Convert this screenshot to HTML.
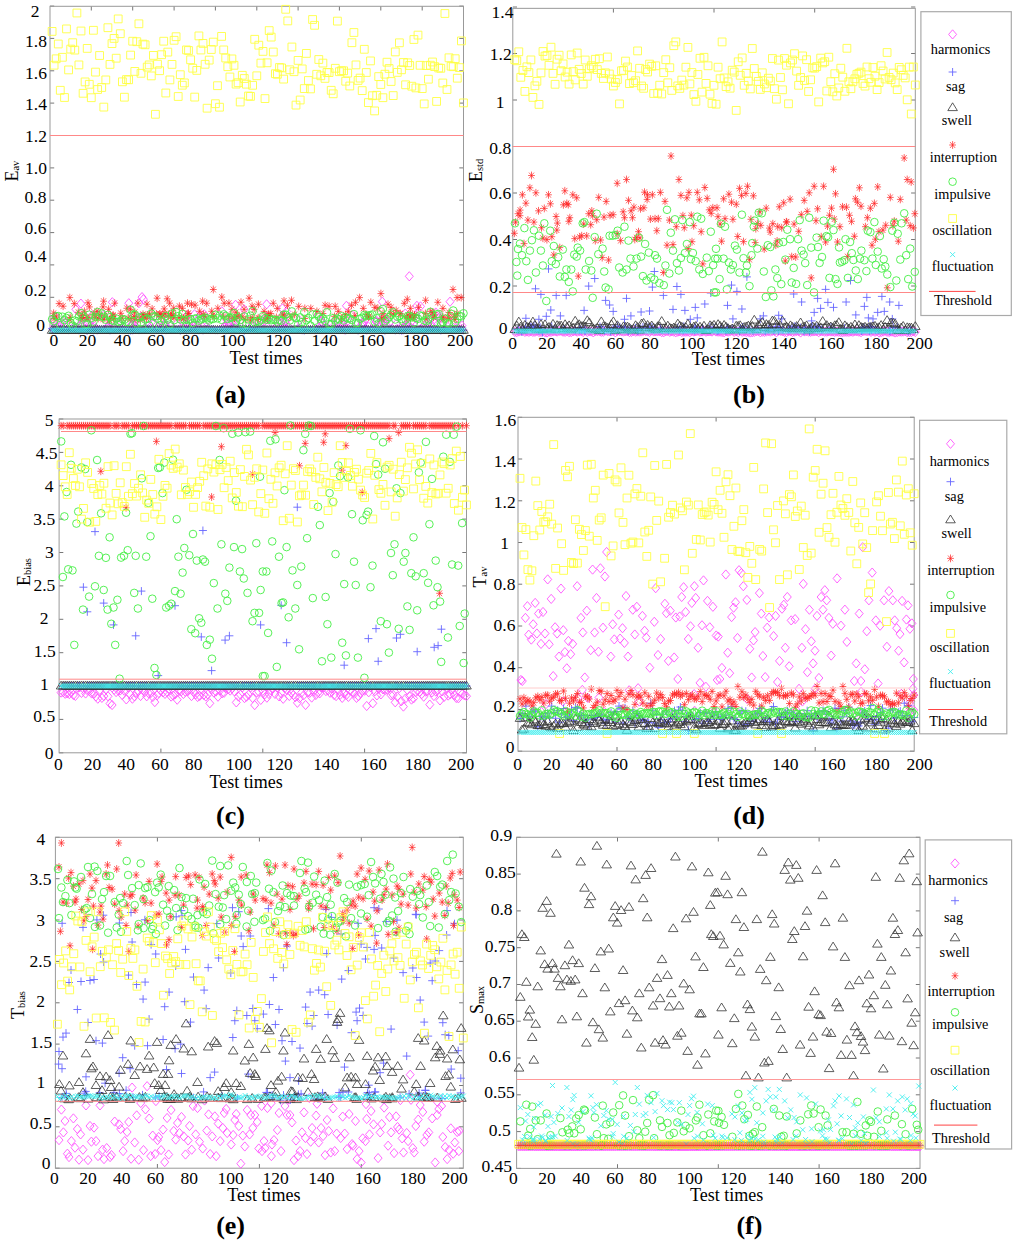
<!DOCTYPE html><html><head><meta charset="utf-8"><style>html,body{margin:0;padding:0;background:#fff}svg{display:block}</style></head><body><svg width="1024" height="1244" viewBox="0 0 1024 1244" font-family="&quot;Liberation Serif&quot;, serif" fill="#000"><rect width="1024" height="1244" fill="#fff"/><defs><path id="sd" d="M0-4.6L4 0 0 4.6-4 0Z" fill="none" stroke="#f5f" stroke-width="0.9"/><path id="sp" d="M-4 0H4M0-4V4" fill="none" stroke="#66f" stroke-width="0.9"/><path id="st" d="M0-4.5L4.8 3.3 -4.8 3.3Z" fill="none" stroke="#333" stroke-width="0.8"/><path id="sa" d="M-3.4 0H3.4M0-3.9V3.9M-2.5-2.9L2.5 2.9M-2.5 2.9L2.5-2.9" fill="none" stroke="#f22" stroke-width="0.7"/><circle id="sc" r="3.8" fill="none" stroke="#4e4" stroke-width="0.9"/><path id="ss" d="M-3.9-3.9H3.9V3.9H-3.9Z" fill="none" stroke="#ff4" stroke-width="0.9"/><path id="sx" d="M-2.5-2.5L2.5 2.5M-2.5 2.5L2.5-2.5" fill="none" stroke="#4ee" stroke-width="0.9"/><marker id="md" markerUnits="userSpaceOnUse" overflow="visible" refX="0" refY="0"><use href="#sd"/></marker><marker id="mp" markerUnits="userSpaceOnUse" overflow="visible" refX="0" refY="0"><use href="#sp"/></marker><marker id="mt" markerUnits="userSpaceOnUse" overflow="visible" refX="0" refY="0"><use href="#st"/></marker><marker id="ma" markerUnits="userSpaceOnUse" overflow="visible" refX="0" refY="0"><use href="#sa"/></marker><marker id="mc" markerUnits="userSpaceOnUse" overflow="visible" refX="0" refY="0"><use href="#sc"/></marker><marker id="ms" markerUnits="userSpaceOnUse" overflow="visible" refX="0" refY="0"><use href="#ss"/></marker><marker id="mx" markerUnits="userSpaceOnUse" overflow="visible" refX="0" refY="0"><use href="#sx"/></marker></defs><path d="M91.3 333.4v-4.2M91.3 6.3v4.2M132.7 333.4v-4.2M132.7 6.3v4.2M174.1 333.4v-4.2M174.1 6.3v4.2M215.4 333.4v-4.2M215.4 6.3v4.2M256.8 333.4v-4.2M256.8 6.3v4.2M298.1 333.4v-4.2M298.1 6.3v4.2M339.4 333.4v-4.2M339.4 6.3v4.2M380.8 333.4v-4.2M380.8 6.3v4.2M422.2 333.4v-4.2M422.2 6.3v4.2M50 329.7h4.2M463.5 329.7h-4.2M50 297.3h4.2M463.5 297.3h-4.2M50 264.9h4.2M463.5 264.9h-4.2M50 232.6h4.2M463.5 232.6h-4.2M50 200.2h4.2M463.5 200.2h-4.2M50 167.9h4.2M463.5 167.9h-4.2M50 135.5h4.2M463.5 135.5h-4.2M50 103.1h4.2M463.5 103.1h-4.2M50 70.8h4.2M463.5 70.8h-4.2M50 38.4h4.2M463.5 38.4h-4.2M50 6.1h4.2M463.5 6.1h-4.2" stroke="#777" stroke-width="1" fill="none"/><rect x="50" y="6.3" width="413.5" height="327.1" fill="none" stroke="#999" stroke-width="1"/><polyline points="53.0,328.5 53.5,320.9 54.7,320.5 55.3,316.4 57.0,327.8 59.2,327.3 62.1,323.8 62.7,320.7 65.3,322.7 73.6,327.0 75.5,327.2 75.9,309.3 80.4,324.9 80.9,303.6 81.8,320.1 82.5,323.4 86.7,329.6 86.9,323.4 87.8,323.1 90.0,325.9 91.0,325.5 92.1,315.3 92.6,327.5 94.2,326.5 96.8,329.2 97.2,329.6 98.0,315.1 104.0,315.1 107.4,327.4 108.0,328.0 108.3,325.9 111.0,321.8 112.3,302.2 117.5,323.3 119.3,324.0 121.6,322.2 128.8,303.2 131.2,325.0 131.7,318.2 132.4,325.0 133.0,328.1 133.6,328.1 134.7,325.8 134.7,328.5 137.3,319.3 138.9,303.2 140.7,316.8 142.0,297.1 143.4,299.2 144.6,328.6 147.4,321.2 152.0,321.6 153.8,323.0 154.4,316.7 157.9,329.2 158.4,326.9 163.2,327.2 164.0,324.4 165.2,326.6 165.2,324.1 168.6,319.1 170.8,325.3 176.5,324.2 183.6,323.0 184.3,328.7 184.6,326.8 185.6,325.4 187.0,324.3 187.2,315.1 188.7,322.6 191.7,329.0 192.2,328.2 192.5,325.5 194.1,326.3 194.5,314.3 197.4,325.2 199.6,316.3 200.1,320.9 204.2,314.3 206.2,327.1 206.2,321.8 221.8,311.3 223.9,326.9 225.1,326.4 226.5,319.5 227.5,324.5 227.8,327.8 228.9,323.8 232.2,321.8 234.4,325.6 234.7,327.9 235.0,322.8 235.6,304.8 241.1,319.5 243.2,329.1 244.1,309.3 251.5,326.7 252.5,324.6 258.6,325.7 264.6,321.2 265.2,320.1 266.6,304.3 266.8,316.8 271.6,322.8 275.1,329.1 280.4,322.2 280.9,323.4 281.5,317.1 282.4,308.4 283.6,324.8 284.6,328.0 285.2,322.1 285.4,321.1 286.5,311.4 288.4,326.9 298.3,328.5 299.3,320.3 316.3,329.5 318.1,315.1 320.9,325.9 321.2,321.9 321.4,321.0 322.9,323.6 326.1,327.8 331.8,323.6 334.7,329.3 335.0,324.6 336.9,328.1 338.0,322.4 340.0,328.8 343.2,322.6 343.8,328.7 343.9,325.1 344.5,327.2 344.6,329.6 346.4,305.8 347.3,321.4 352.2,315.3 356.7,323.8 358.9,327.9 362.0,323.0 362.6,324.8 363.5,323.2 364.8,320.3 366.6,329.6 368.2,326.3 376.3,320.4 376.3,322.0 376.4,321.7 378.3,325.2 381.1,320.9 382.2,329.4 382.3,301.7 382.4,321.8 383.6,317.2 385.5,320.0 385.7,320.6 386.7,325.6 389.6,322.4 396.1,324.1 396.7,329.3 397.7,329.2 402.1,329.6 402.2,328.7 403.6,328.5 404.4,327.8 405.2,327.1 405.3,313.5 405.3,325.0 406.7,325.2 407.3,325.6 409.3,276.3 410.7,328.0 412.6,320.1 413.5,329.1 416.1,315.3 416.8,319.2 416.9,305.8 420.5,306.4 420.9,328.9 424.2,325.9 425.2,328.8 427.6,323.0 428.4,326.3 429.7,324.6 430.2,319.3 431.8,317.8 432.5,326.2 435.8,312.5 437.0,325.2 437.0,316.5 439.8,316.5 440.4,318.8 443.0,323.6 447.5,326.4 450.0,301.7 454.5,320.3 457.2,328.2 461.9,328.7 462.0,325.7" fill="none" stroke="none" marker-start="url(#md)" marker-mid="url(#md)" marker-end="url(#md)"/><polyline points="52.1,328.7 54.1,330.1 56.2,329.6 58.3,330.0 60.3,328.8 62.4,329.8 64.5,329.6 66.5,329.6 68.6,330.1 70.7,329.2 72.7,328.5 74.8,329.5 76.9,329.9 78.9,330.2 81.0,329.9 83.1,329.6 85.1,329.7 87.2,330.5 89.3,328.8 91.3,329.5 93.4,330.3 95.5,328.8 97.6,329.8 99.6,329.4 101.7,329.5 103.8,329.2 105.8,329.4 107.9,329.5 110.0,330.3 112.0,329.6 114.1,329.9 116.2,329.8 118.2,329.4 120.3,329.6 122.4,329.4 124.4,329.8 126.5,329.9 128.6,330.2 130.6,330.5 132.7,330.3 134.8,329.7 136.8,328.9 138.9,330.1 141.0,329.7 143.0,329.9 145.1,329.5 147.2,328.8 149.2,329.0 151.3,329.8 153.4,329.9 155.4,329.6 157.5,330.0 159.6,330.0 161.6,330.2 163.7,329.5 165.8,330.1 167.8,328.9 169.9,329.9 172.0,329.9 174.1,329.6 176.1,329.7 178.2,329.4 180.3,330.5 182.3,329.8 184.4,329.7 186.5,330.4 188.5,330.0 190.6,329.5 192.7,329.4 194.7,330.3 196.8,330.0 198.9,330.2 200.9,329.5 203.0,330.3 205.1,329.7 207.1,329.2 209.2,329.8 211.3,329.3 213.3,329.0 215.4,330.1 217.5,330.1 219.5,330.0 221.6,329.9 223.7,329.6 225.7,330.3 227.8,329.6 229.9,330.0 231.9,329.2 234.0,328.6 236.1,329.7 238.1,328.6 240.2,329.1 242.3,329.4 244.3,330.5 246.4,329.5 248.5,330.0 250.5,329.2 252.6,329.1 254.7,329.6 256.8,329.9 258.8,328.5 260.9,329.6 263.0,329.3 265.0,329.9 267.1,329.5 269.2,330.0 271.2,329.6 273.3,329.7 275.4,329.9 277.4,329.9 279.5,329.7 281.6,329.7 283.6,329.8 285.7,329.8 287.8,329.8 289.8,329.6 291.9,329.9 294.0,329.5 296.0,329.9 298.1,329.2 300.2,330.0 302.2,330.2 304.3,330.5 306.4,329.8 308.4,329.9 310.5,329.5 312.6,329.8 314.6,330.1 316.7,329.2 318.8,329.9 320.8,329.2 322.9,329.6 325.0,329.1 327.0,329.8 329.1,329.5 331.2,330.1 333.2,329.8 335.3,329.8 337.4,329.6 339.4,329.4 341.5,330.0 343.6,329.4 345.7,330.3 347.7,329.9 349.8,329.6 351.9,329.3 353.9,329.4 356.0,329.6 358.1,330.4 360.1,329.0 362.2,329.5 364.3,329.2 366.3,329.0 368.4,329.6 370.5,330.0 372.5,329.5 374.6,330.0 376.7,329.4 378.7,329.9 380.8,329.5 382.9,329.9 384.9,330.5 387.0,329.3 389.1,329.9 391.1,328.8 393.2,329.6 395.3,330.3 397.3,329.5 399.4,330.2 401.5,330.4 403.5,330.2 405.6,329.7 407.7,329.6 409.7,329.6 411.8,329.5 413.9,329.4 415.9,329.1 418.0,329.9 420.1,329.2 422.2,329.6 424.2,330.4 426.3,329.2 428.4,330.2 430.4,329.3 432.5,329.7 434.6,329.2 436.6,328.9 438.7,329.3 440.8,330.4 442.8,329.6 444.9,329.8 447.0,329.8 449.0,329.7 451.1,329.2 453.2,329.6 455.2,330.1 457.3,328.8 459.4,329.8 461.4,329.9 463.5,330.2" fill="none" stroke="none" marker-start="url(#mp)" marker-mid="url(#mp)" marker-end="url(#mp)"/><polyline points="52.1,330.0 54.1,330.0 56.2,330.0 58.3,330.0 60.3,330.0 62.4,330.0 64.5,330.0 66.5,330.0 68.6,330.0 70.7,330.0 72.7,330.0 74.8,330.0 76.9,330.0 78.9,330.0 81.0,330.0 83.1,330.0 85.1,330.0 87.2,330.0 89.3,330.0 91.3,330.0 93.4,330.0 95.5,330.0 97.6,330.0 99.6,330.0 101.7,330.0 103.8,330.0 105.8,330.0 107.9,330.0 110.0,330.0 112.0,330.0 114.1,330.0 116.2,330.0 118.2,330.0 120.3,330.0 122.4,330.0 124.4,330.0 126.5,330.0 128.6,330.0 130.6,330.0 132.7,330.0 134.8,330.0 136.8,330.0 138.9,330.0 141.0,330.0 143.0,330.0 145.1,330.0 147.2,330.0 149.2,330.0 151.3,330.0 153.4,330.0 155.4,330.0 157.5,330.0 159.6,330.0 161.6,330.0 163.7,330.0 165.8,330.0 167.8,330.0 169.9,330.0 172.0,330.0 174.1,330.0 176.1,330.0 178.2,330.0 180.3,330.0 182.3,330.0 184.4,330.0 186.5,330.0 188.5,330.0 190.6,330.0 192.7,330.0 194.7,330.0 196.8,330.0 198.9,330.0 200.9,330.0 203.0,330.0 205.1,330.0 207.1,330.0 209.2,330.0 211.3,330.0 213.3,330.0 215.4,330.0 217.5,330.0 219.5,330.0 221.6,330.0 223.7,330.0 225.7,330.0 227.8,330.0 229.9,330.0 231.9,330.0 234.0,330.0 236.1,330.0 238.1,330.0 240.2,330.0 242.3,330.0 244.3,330.0 246.4,330.0 248.5,330.0 250.5,330.0 252.6,330.0 254.7,330.0 256.8,330.0 258.8,330.0 260.9,330.0 263.0,330.0 265.0,330.0 267.1,330.0 269.2,330.0 271.2,330.0 273.3,330.0 275.4,330.0 277.4,330.0 279.5,330.0 281.6,330.0 283.6,330.0 285.7,330.0 287.8,330.0 289.8,330.0 291.9,330.0 294.0,330.0 296.0,330.0 298.1,330.0 300.2,330.0 302.2,330.0 304.3,330.0 306.4,330.0 308.4,330.0 310.5,330.0 312.6,330.0 314.6,330.0 316.7,330.0 318.8,330.0 320.8,330.0 322.9,330.0 325.0,330.0 327.0,330.0 329.1,330.0 331.2,330.0 333.2,330.0 335.3,330.0 337.4,330.0 339.4,330.0 341.5,330.0 343.6,330.0 345.7,330.0 347.7,330.0 349.8,330.0 351.9,330.0 353.9,330.0 356.0,330.0 358.1,330.0 360.1,330.0 362.2,330.0 364.3,330.0 366.3,330.0 368.4,330.0 370.5,330.0 372.5,330.0 374.6,330.0 376.7,330.0 378.7,330.0 380.8,330.0 382.9,330.0 384.9,330.0 387.0,330.0 389.1,330.0 391.1,330.0 393.2,330.0 395.3,330.0 397.3,330.0 399.4,330.0 401.5,330.0 403.5,330.0 405.6,330.0 407.7,330.0 409.7,330.0 411.8,330.0 413.9,330.0 415.9,330.0 418.0,330.0 420.1,330.0 422.2,330.0 424.2,330.0 426.3,330.0 428.4,330.0 430.4,330.0 432.5,330.0 434.6,330.0 436.6,330.0 438.7,330.0 440.8,330.0 442.8,330.0 444.9,330.0 447.0,330.0 449.0,330.0 451.1,330.0 453.2,330.0 455.2,330.0 457.3,330.0 459.4,330.0 461.4,330.0 463.5,330.0" fill="none" stroke="none" marker-start="url(#mt)" marker-mid="url(#mt)" marker-end="url(#mt)"/><polyline points="53.6,313.3 54.0,318.4 56.4,317.0 59.1,303.6 63.1,306.2 69.8,297.6 69.9,319.7 70.2,317.4 74.3,303.6 78.3,312.3 81.2,318.2 82.5,315.6 82.8,317.7 84.4,311.3 86.9,317.6 87.9,318.0 88.0,302.8 89.4,306.9 93.2,314.0 95.2,317.8 96.9,311.3 98.2,318.4 99.8,315.0 103.0,306.9 103.1,319.4 103.6,301.2 104.5,315.9 108.6,309.3 109.4,319.9 109.4,319.9 112.7,316.4 113.0,316.0 113.1,315.0 113.6,318.6 114.7,303.2 120.7,313.3 122.2,318.1 126.8,308.3 128.1,318.1 130.5,309.3 131.0,318.5 134.3,316.6 134.9,312.3 136.0,319.3 137.9,303.2 140.2,319.6 142.6,317.2 143.0,314.3 143.9,316.3 146.5,318.4 147.0,304.2 147.3,315.0 149.6,314.2 152.1,308.9 156.4,313.9 157.1,298.2 159.6,314.1 160.2,314.3 161.7,317.0 162.9,314.9 164.2,308.9 165.1,313.7 167.2,298.8 168.6,315.0 169.7,303.2 170.7,317.0 171.3,313.3 173.2,315.3 173.7,308.3 174.0,317.6 179.3,317.6 179.4,306.2 181.9,317.5 182.4,308.3 183.6,318.2 187.2,317.9 187.5,303.2 187.9,313.6 188.5,313.3 191.5,304.2 195.1,305.2 199.6,311.3 202.6,301.2 203.5,314.5 204.7,316.2 206.7,303.2 211.7,311.3 212.9,315.4 213.3,289.5 214.0,316.6 217.8,308.3 221.8,297.1 223.4,316.4 224.2,303.2 228.9,303.2 229.1,316.7 231.9,309.3 233.9,317.8 234.5,318.4 236.0,312.3 236.9,316.4 239.3,316.4 241.0,302.2 242.3,316.8 244.1,309.3 245.2,319.4 249.1,298.2 250.5,319.9 252.1,306.2 252.2,317.6 254.2,309.3 257.6,319.5 258.2,317.8 258.4,304.3 264.1,311.4 265.0,319.7 267.5,318.6 268.2,315.5 268.6,314.2 270.8,313.6 273.3,303.3 276.4,317.4 277.3,308.4 282.7,314.9 284.0,300.9 284.2,315.2 287.5,305.3 290.8,317.0 291.5,300.3 294.6,314.5 298.7,306.4 304.8,308.4 304.8,318.5 310.8,308.4 316.9,311.4 323.0,313.5 325.1,305.3 329.1,306.4 334.5,316.4 335.2,306.4 338.3,311.4 341.5,318.2 345.4,314.6 348.4,311.4 351.5,305.3 354.8,315.6 355.5,302.3 359.6,297.6 363.3,308.4 366.7,314.5 368.7,317.1 369.5,316.1 370.8,302.3 374.8,307.4 377.9,308.4 380.9,293.6 381.6,318.8 383.0,313.5 383.9,317.5 388.0,304.3 390.5,313.6 391.1,307.4 393.6,314.5 396.2,310.4 400.1,314.1 400.2,313.5 404.3,303.3 406.3,316.8 407.3,299.3 408.0,315.3 408.1,318.6 410.2,314.1 410.4,308.4 410.7,317.3 412.8,317.6 413.6,317.1 414.4,315.5 414.6,314.8 418.5,307.4 425.4,313.5 425.6,300.3 426.0,318.7 430.7,311.4 432.7,312.5 433.6,317.2 434.5,315.0 437.8,302.3 442.9,308.4 443.0,318.8 443.0,317.2 448.2,317.2 448.8,318.4 449.0,312.5 453.0,289.5 454.5,315.0 454.9,319.5 455.0,316.7 457.1,297.6 457.1,313.5 461.2,297.6" fill="none" stroke="none" marker-start="url(#ma)" marker-mid="url(#ma)" marker-end="url(#ma)"/><polyline points="52.1,319.2 54.1,321.2 56.2,316.3 58.3,316.1 60.3,325.0 62.4,316.7 64.5,320.2 66.5,318.0 68.6,315.8 70.7,323.0 72.7,325.6 74.8,320.5 76.9,321.3 78.9,316.4 81.0,313.2 83.1,316.5 85.1,324.6 87.2,324.3 89.3,314.7 91.3,318.2 93.4,321.7 95.5,316.9 97.6,312.0 99.6,316.6 101.7,313.4 103.8,317.0 105.8,319.8 107.9,314.9 110.0,317.1 112.0,320.4 114.1,321.1 116.2,318.5 118.2,321.8 120.3,321.2 122.4,319.1 124.4,319.7 126.5,321.9 128.6,322.2 130.6,309.8 132.7,314.5 134.8,314.6 136.8,323.4 138.9,317.4 141.0,322.4 143.0,316.6 145.1,319.4 147.2,318.7 149.2,325.6 151.3,313.6 153.4,316.4 155.4,316.4 157.5,318.7 159.6,325.4 161.6,321.1 163.7,318.5 165.8,315.9 167.8,319.6 169.9,324.5 172.0,313.5 174.1,320.2 176.1,312.1 178.2,316.1 180.3,319.4 182.3,313.9 184.4,320.1 186.5,325.6 188.5,320.2 190.6,319.0 192.7,322.9 194.7,318.7 196.8,318.3 198.9,320.7 200.9,319.4 203.0,318.7 205.1,317.6 207.1,318.4 209.2,320.5 211.3,318.9 213.3,318.9 215.4,314.8 217.5,318.4 219.5,315.6 221.6,319.8 223.7,314.4 225.7,316.0 227.8,319.0 229.9,317.8 231.9,317.4 234.0,313.0 236.1,321.5 238.1,317.4 240.2,320.1 242.3,323.3 244.3,316.4 246.4,324.0 248.5,319.5 250.5,315.7 252.6,311.1 254.7,322.4 256.8,321.0 258.8,321.6 260.9,320.3 263.0,316.2 265.0,318.2 267.1,319.8 269.2,318.2 271.2,320.2 273.3,319.6 275.4,319.8 277.4,321.7 279.5,319.9 281.6,320.7 283.6,314.6 285.7,314.6 287.8,317.2 289.8,320.5 291.9,311.4 294.0,316.7 296.0,318.2 298.1,324.4 300.2,317.4 302.2,321.9 304.3,312.2 306.4,320.3 308.4,318.0 310.5,325.6 312.6,314.5 314.6,320.8 316.7,313.9 318.8,316.7 320.8,319.0 322.9,318.3 325.0,320.9 327.0,312.3 329.1,324.2 331.2,324.1 333.2,318.2 335.3,320.6 337.4,318.6 339.4,319.4 341.5,316.3 343.6,320.5 345.7,317.2 347.7,318.5 349.8,318.4 351.9,320.0 353.9,314.1 356.0,323.3 358.1,322.9 360.1,318.7 362.2,317.7 364.3,315.0 366.3,316.2 368.4,315.5 370.5,315.1 372.5,314.5 374.6,321.7 376.7,318.2 378.7,323.3 380.8,311.1 382.9,309.0 384.9,321.5 387.0,319.3 389.1,317.2 391.1,314.7 393.2,312.3 395.3,319.5 397.3,316.7 399.4,315.9 401.5,319.0 403.5,321.8 405.6,319.7 407.7,316.1 409.7,315.7 411.8,317.3 413.9,322.7 415.9,317.9 418.0,318.8 420.1,315.4 422.2,316.0 424.2,320.6 426.3,321.2 428.4,319.4 430.4,311.9 432.5,315.2 434.6,322.4 436.6,314.4 438.7,314.0 440.8,322.9 442.8,322.0 444.9,318.7 447.0,322.9 449.0,323.4 451.1,313.8 453.2,310.5 455.2,322.3 457.3,319.1 459.4,316.0 461.4,316.4 463.5,313.3" fill="none" stroke="none" marker-start="url(#mc)" marker-mid="url(#mc)" marker-end="url(#mc)"/><polyline points="52.1,31.4 54.1,65.2 56.2,58.8 58.3,44.0 60.3,90.3 62.4,57.3 64.5,97.5 66.5,28.9 68.6,69.9 70.7,49.1 72.7,42.7 74.8,50.1 76.9,13.0 78.9,64.9 81.0,31.0 83.1,93.3 85.1,81.9 87.2,48.4 89.3,84.3 91.3,97.7 93.4,30.3 95.5,72.1 97.6,89.5 99.6,55.5 101.7,87.5 103.8,107.1 105.8,79.9 107.9,27.7 110.0,64.4 112.0,43.6 114.1,38.4 116.2,58.2 118.2,18.9 120.3,33.7 122.4,81.8 124.4,97.2 126.5,79.6 128.6,79.8 130.6,55.1 132.7,41.2 134.8,71.4 136.8,41.7 138.9,23.8 141.0,73.3 143.0,44.1 145.1,44.8 147.2,67.1 149.2,64.9 151.3,75.9 153.4,55.4 155.4,114.3 157.5,64.2 159.6,70.7 161.6,54.7 163.7,41.2 165.8,93.0 167.8,52.1 169.9,79.9 172.0,64.4 174.1,40.3 176.1,36.7 178.2,96.5 180.3,74.7 182.3,85.2 184.4,82.9 186.5,49.9 188.5,50.5 190.6,59.8 192.7,68.2 194.7,97.1 196.8,70.4 198.9,35.9 200.9,50.0 203.0,43.4 205.1,64.3 207.1,108.2 209.2,60.1 211.3,49.5 213.3,42.1 215.4,103.7 217.5,85.7 219.5,107.2 221.6,36.4 223.7,49.9 225.7,58.0 227.8,66.7 229.9,77.0 231.9,58.9 234.0,65.3 236.1,84.1 238.1,82.7 240.2,102.0 242.3,75.3 244.3,78.5 246.4,84.2 248.5,96.0 250.5,96.4 252.6,85.3 254.7,39.3 256.8,75.8 258.8,45.2 260.9,63.1 263.0,51.4 265.0,98.6 267.1,62.8 269.2,30.6 271.2,37.1 273.3,52.0 275.4,73.7 277.4,74.3 279.5,67.5 281.6,67.9 283.6,79.1 285.7,9.3 287.8,20.9 289.8,69.8 291.9,47.0 294.0,71.7 296.0,105.1 298.1,60.4 300.2,100.0 302.2,68.9 304.3,88.6 306.4,53.4 308.4,80.5 310.5,88.9 312.6,19.5 314.6,25.3 316.7,74.3 318.8,59.5 320.8,75.8 322.9,63.1 325.0,78.4 327.0,72.4 329.1,72.6 331.2,90.3 333.2,93.8 335.3,68.3 337.4,21.1 339.4,71.7 341.5,70.8 343.6,70.8 345.7,81.2 347.7,73.1 349.8,86.0 351.9,42.7 353.9,32.5 356.0,64.9 358.1,80.4 360.1,78.1 362.2,90.6 364.3,49.3 366.3,72.5 368.4,102.6 370.5,60.9 372.5,95.7 374.6,110.9 376.7,95.3 378.7,76.6 380.8,84.5 382.9,97.7 384.9,74.2 387.0,62.2 389.1,68.5 391.1,81.5 393.2,95.6 395.3,51.9 397.3,72.4 399.4,42.8 401.5,69.8 403.5,62.5 405.6,84.8 407.7,62.8 409.7,65.5 411.8,86.2 413.9,39.5 415.9,87.9 418.0,35.1 420.1,65.3 422.2,88.6 424.2,103.9 426.3,65.6 428.4,79.2 430.4,65.2 432.5,62.0 434.6,66.6 436.6,101.4 438.7,68.0 440.8,68.3 442.8,83.0 444.9,13.5 447.0,89.5 449.0,57.8 451.1,66.2 453.2,66.7 455.2,58.7 457.3,78.2 459.4,67.6 461.4,40.9 463.5,102.9" fill="none" stroke="none" marker-start="url(#ms)" marker-mid="url(#ms)" marker-end="url(#ms)"/><polyline points="52.1,330.2 54.1,330.2 56.2,330.2 58.3,330.2 60.3,330.2 62.4,330.2 64.5,330.2 66.5,330.2 68.6,330.2 70.7,330.2 72.7,330.2 74.8,330.2 76.9,330.2 78.9,330.2 81.0,330.2 83.1,330.2 85.1,330.2 87.2,330.2 89.3,330.2 91.3,330.2 93.4,330.2 95.5,330.2 97.6,330.2 99.6,330.2 101.7,330.2 103.8,330.2 105.8,330.2 107.9,330.2 110.0,330.2 112.0,330.2 114.1,330.2 116.2,330.2 118.2,330.2 120.3,330.2 122.4,330.2 124.4,330.2 126.5,330.2 128.6,330.2 130.6,330.2 132.7,330.2 134.8,330.2 136.8,330.2 138.9,330.2 141.0,330.2 143.0,330.2 145.1,330.2 147.2,330.2 149.2,330.2 151.3,330.2 153.4,330.2 155.4,330.2 157.5,330.2 159.6,330.2 161.6,330.2 163.7,330.2 165.8,330.2 167.8,330.2 169.9,330.2 172.0,330.2 174.1,330.2 176.1,330.2 178.2,330.2 180.3,330.2 182.3,330.2 184.4,330.2 186.5,330.2 188.5,330.2 190.6,330.2 192.7,330.2 194.7,330.2 196.8,330.2 198.9,330.2 200.9,330.2 203.0,330.2 205.1,330.2 207.1,330.2 209.2,330.2 211.3,330.2 213.3,330.2 215.4,330.2 217.5,330.2 219.5,330.2 221.6,330.2 223.7,330.2 225.7,330.2 227.8,330.2 229.9,330.2 231.9,330.2 234.0,330.2 236.1,330.2 238.1,330.2 240.2,330.2 242.3,330.2 244.3,330.2 246.4,330.2 248.5,330.2 250.5,330.2 252.6,330.2 254.7,330.2 256.8,330.2 258.8,330.2 260.9,330.2 263.0,330.2 265.0,330.2 267.1,330.2 269.2,330.2 271.2,330.2 273.3,330.2 275.4,330.2 277.4,330.2 279.5,330.2 281.6,330.2 283.6,330.2 285.7,330.2 287.8,330.2 289.8,330.2 291.9,330.2 294.0,330.2 296.0,330.2 298.1,330.2 300.2,330.2 302.2,330.2 304.3,330.2 306.4,330.2 308.4,330.2 310.5,330.2 312.6,330.2 314.6,330.2 316.7,330.2 318.8,330.2 320.8,330.2 322.9,330.2 325.0,330.2 327.0,330.2 329.1,330.2 331.2,330.2 333.2,330.2 335.3,330.2 337.4,330.2 339.4,330.2 341.5,330.2 343.6,330.2 345.7,330.2 347.7,330.2 349.8,330.2 351.9,330.2 353.9,330.2 356.0,330.2 358.1,330.2 360.1,330.2 362.2,330.2 364.3,330.2 366.3,330.2 368.4,330.2 370.5,330.2 372.5,330.2 374.6,330.2 376.7,330.2 378.7,330.2 380.8,330.2 382.9,330.2 384.9,330.2 387.0,330.2 389.1,330.2 391.1,330.2 393.2,330.2 395.3,330.2 397.3,330.2 399.4,330.2 401.5,330.2 403.5,330.2 405.6,330.2 407.7,330.2 409.7,330.2 411.8,330.2 413.9,330.2 415.9,330.2 418.0,330.2 420.1,330.2 422.2,330.2 424.2,330.2 426.3,330.2 428.4,330.2 430.4,330.2 432.5,330.2 434.6,330.2 436.6,330.2 438.7,330.2 440.8,330.2 442.8,330.2 444.9,330.2 447.0,330.2 449.0,330.2 451.1,330.2 453.2,330.2 455.2,330.2 457.3,330.2 459.4,330.2 461.4,330.2 463.5,330.2" fill="none" stroke="none" marker-start="url(#mx)" marker-mid="url(#mx)" marker-end="url(#mx)"/><line x1="50" x2="463.5" y1="135.5" y2="135.5" stroke="#f88" stroke-width="1"/><text x="35.1" y="17" font-size="17.5" text-anchor="middle" >2</text><text x="36" y="47" font-size="17.5" text-anchor="middle" >1.8</text><text x="36" y="78.5" font-size="17.5" text-anchor="middle" >1.6</text><text x="36" y="110.3" font-size="17.5" text-anchor="middle" >1.4</text><text x="36" y="141.5" font-size="17.5" text-anchor="middle" >1.2</text><text x="36" y="174" font-size="17.5" text-anchor="middle" >1.0</text><text x="35.5" y="203" font-size="17.5" text-anchor="middle" >0.8</text><text x="35.5" y="234" font-size="17.5" text-anchor="middle" >0.6</text><text x="35.5" y="262.3" font-size="17.5" text-anchor="middle" >0.4</text><text x="35.5" y="296.3" font-size="17.5" text-anchor="middle" >0.2</text><text x="40.5" y="331" font-size="17.5" text-anchor="middle" >0</text><text x="53.9" y="346" font-size="17.5" text-anchor="middle" >0</text><text x="87.5" y="346" font-size="17.5" text-anchor="middle" >20</text><text x="122.5" y="346" font-size="17.5" text-anchor="middle" >40</text><text x="156" y="346" font-size="17.5" text-anchor="middle" >60</text><text x="190.5" y="346" font-size="17.5" text-anchor="middle" >80</text><text x="232.5" y="346" font-size="17.5" text-anchor="middle" >100</text><text x="278.6" y="346" font-size="17.5" text-anchor="middle" >120</text><text x="324.5" y="346" font-size="17.5" text-anchor="middle" >140</text><text x="371.5" y="346" font-size="17.5" text-anchor="middle" >160</text><text x="416" y="346" font-size="17.5" text-anchor="middle" >180</text><text x="460" y="346" font-size="17.5" text-anchor="middle" >200</text><text x="266" y="363.5" font-size="18" text-anchor="middle" >Test times</text><text transform="translate(18.2,181.6) rotate(-90)" font-size="18">E<tspan font-size="10.5" dy="1">av</tspan></text><text x="230.5" y="403.4" font-size="26" font-weight="bold" text-anchor="middle">(a)</text><path d="M613.4 334v-4.2M613.4 8.35v4.2M714.0 334v-4.2M714.0 8.35v4.2M814.7 334v-4.2M814.7 8.35v4.2M512.8 332.5h4.2M915.3 332.5h-4.2M512.8 286.0h4.2M915.3 286.0h-4.2M512.8 239.5h4.2M915.3 239.5h-4.2M512.8 193.0h4.2M915.3 193.0h-4.2M512.8 146.5h4.2M915.3 146.5h-4.2M512.8 100.0h4.2M915.3 100.0h-4.2M512.8 53.5h4.2M915.3 53.5h-4.2M512.8 7.0h4.2M915.3 7.0h-4.2" stroke="#777" stroke-width="1" fill="none"/><rect x="512.8" y="8.35" width="402.5" height="325.6" fill="none" stroke="#999" stroke-width="1"/><polyline points="514.8,331.9 516.8,332.1 518.8,331.5 520.8,330.8 522.9,331.0 524.9,331.9 526.9,331.5 528.9,331.9 530.9,331.3 532.9,331.9 534.9,331.8 536.9,331.0 539.0,332.0 541.0,331.9 543.0,331.2 545.0,332.2 547.0,332.5 549.0,331.7 551.0,331.9 553.0,331.3 555.1,331.2 557.1,331.6 559.1,331.0 561.1,330.9 563.1,331.7 565.1,331.9 567.1,331.3 569.1,332.2 571.2,332.1 573.2,331.4 575.2,331.0 577.2,331.7 579.2,331.2 581.2,331.3 583.2,332.0 585.2,330.6 587.3,332.0 589.3,331.4 591.3,331.5 593.3,332.4 595.3,331.0 597.3,331.2 599.3,331.0 601.3,331.8 603.4,331.8 605.4,330.6 607.4,331.1 609.4,331.4 611.4,331.4 613.4,331.0 615.4,332.4 617.4,331.0 619.5,331.1 621.5,331.3 623.5,331.6 625.5,331.4 627.5,331.2 629.5,332.1 631.5,331.9 633.5,331.1 635.6,331.7 637.6,331.5 639.6,331.6 641.6,331.5 643.6,330.8 645.6,331.0 647.6,331.5 649.6,332.0 651.7,330.6 653.7,331.5 655.7,331.3 657.7,331.4 659.7,331.2 661.7,332.1 663.7,332.3 665.8,331.3 667.8,331.0 669.8,331.9 671.8,331.4 673.8,331.7 675.8,332.3 677.8,331.7 679.8,331.3 681.8,332.0 683.9,331.8 685.9,331.8 687.9,331.6 689.9,332.2 691.9,331.0 693.9,331.6 695.9,331.3 697.9,330.8 700.0,331.8 702.0,331.5 704.0,331.0 706.0,331.7 708.0,331.4 710.0,331.3 712.0,331.6 714.0,330.6 716.1,331.5 718.1,331.7 720.1,331.7 722.1,332.0 724.1,332.3 726.1,331.3 728.1,331.7 730.1,331.2 732.2,330.8 734.2,331.9 736.2,331.2 738.2,332.2 740.2,330.8 742.2,331.8 744.2,331.6 746.2,332.0 748.3,331.9 750.3,332.5 752.3,332.2 754.3,331.9 756.3,331.3 758.3,331.1 760.3,332.3 762.3,331.7 764.4,331.9 766.4,331.6 768.4,331.0 770.4,331.6 772.4,330.9 774.4,331.0 776.4,332.3 778.5,330.7 780.5,330.8 782.5,331.4 784.5,331.9 786.5,332.2 788.5,331.0 790.5,331.4 792.5,332.0 794.5,331.6 796.6,331.0 798.6,331.2 800.6,332.5 802.6,330.6 804.6,331.5 806.6,331.1 808.6,331.7 810.6,331.8 812.7,331.5 814.7,331.4 816.7,331.1 818.7,332.2 820.7,331.3 822.7,331.3 824.7,331.7 826.8,331.7 828.8,331.3 830.8,331.5 832.8,331.5 834.8,331.9 836.8,331.6 838.8,331.8 840.8,332.0 842.8,332.1 844.9,331.8 846.9,331.8 848.9,331.9 850.9,331.5 852.9,331.8 854.9,331.2 856.9,331.3 858.9,331.7 861.0,332.2 863.0,331.1 865.0,330.9 867.0,331.2 869.0,331.0 871.0,331.9 873.0,331.1 875.0,331.8 877.1,331.3 879.1,332.5 881.1,332.1 883.1,331.6 885.1,330.9 887.1,331.8 889.1,332.0 891.1,331.6 893.2,331.8 895.2,332.5 897.2,332.1 899.2,331.6 901.2,331.7 903.2,331.6 905.2,331.2 907.2,332.2 909.3,332.1 911.3,332.1 913.3,331.4 915.3,332.0" fill="none" stroke="none" marker-start="url(#md)" marker-mid="url(#md)" marker-end="url(#md)"/><polyline points="518.0,329.5 518.1,329.7 521.8,331.9 523.9,329.6 525.0,329.7 525.7,327.1 525.9,318.3 530.7,327.8 530.9,326.6 531.6,328.1 531.6,327.8 533.9,325.6 535.5,327.8 535.5,288.8 538.7,329.1 538.9,330.6 538.9,319.3 539.9,329.3 540.1,327.2 540.9,294.4 541.1,329.8 542.4,332.5 546.3,316.3 548.5,268.9 550.8,310.0 551.7,326.2 556.2,295.4 560.4,315.9 563.7,328.9 565.1,329.7 566.2,295.4 575.4,329.8 579.4,330.0 579.9,328.4 581.7,329.9 584.1,310.4 584.7,329.5 585.1,330.8 588.7,286.1 594.7,278.5 600.0,326.6 601.6,328.7 604.5,330.4 605.6,300.4 608.8,329.1 609.6,305.0 610.7,331.7 613.1,328.4 613.2,311.4 613.9,329.7 615.5,328.3 617.4,326.3 619.9,326.8 624.5,329.1 624.5,319.3 625.2,327.0 626.5,298.4 628.2,331.2 630.1,328.3 630.9,315.9 635.3,328.8 635.6,327.9 637.8,331.0 638.5,329.1 640.7,328.9 641.1,312.0 642.9,327.1 648.1,327.3 649.0,328.6 649.5,311.0 651.9,326.8 652.4,287.1 653.9,329.7 654.4,271.5 660.4,328.8 660.5,328.1 662.1,330.0 663.4,295.4 668.6,330.1 673.0,309.4 676.9,286.5 677.7,327.6 679.7,329.8 680.9,294.4 683.2,330.4 683.8,326.4 684.9,310.4 690.3,319.3 692.4,329.6 694.6,330.3 694.8,328.1 695.3,307.4 695.5,327.5 697.2,329.4 697.3,317.9 702.5,330.1 702.5,328.3 703.2,329.3 704.8,304.0 709.9,326.9 710.8,293.0 714.1,327.9 717.2,330.7 718.7,330.4 720.9,328.7 721.4,328.9 725.8,330.5 727.2,327.6 727.5,305.4 728.0,328.8 728.3,329.5 730.3,329.9 731.5,285.1 732.2,328.7 732.9,318.9 736.9,291.4 739.6,331.0 740.2,328.6 740.4,328.2 741.9,309.0 742.5,327.0 743.9,328.9 746.9,276.9 747.9,328.9 749.9,329.8 753.0,330.8 758.0,329.2 760.2,318.9 763.4,315.9 765.2,330.9 768.4,329.0 769.9,327.3 773.9,330.4 775.4,326.9 778.0,328.0 778.5,330.7 778.7,315.3 779.7,327.3 781.7,318.9 782.9,329.7 788.5,329.4 790.0,329.0 792.1,328.3 793.7,294.0 794.3,326.3 796.2,326.9 800.5,327.7 801.6,302.0 804.0,331.5 804.5,328.7 805.6,328.1 809.6,331.6 810.2,327.7 811.6,320.9 812.2,326.6 814.2,312.4 816.1,327.1 817.6,298.4 817.7,329.1 818.3,327.8 818.6,327.0 820.6,308.4 821.8,329.5 825.6,289.4 827.9,302.4 831.1,327.1 833.5,307.4 844.5,328.2 846.1,302.0 850.5,280.5 855.8,314.9 861.7,331.0 862.0,327.2 862.8,329.5 864.2,327.8 864.4,306.4 866.8,297.4 868.4,317.9 868.8,327.6 869.6,330.6 870.1,326.8 870.8,326.7 871.5,329.6 871.6,329.5 873.0,318.9 875.6,330.0 877.7,312.4 878.1,329.9 881.9,296.4 884.3,311.4 889.7,302.0 889.8,331.3 890.2,330.1 892.3,318.9 893.3,327.4 897.4,327.2 898.9,305.4 908.1,331.4 910.4,330.6 910.6,329.9" fill="none" stroke="none" marker-start="url(#mp)" marker-mid="url(#mp)" marker-end="url(#mp)"/><polyline points="514.8,329.2 516.8,325.6 518.8,321.6 520.8,326.6 522.9,329.5 524.9,325.0 526.9,326.8 528.9,327.4 530.9,325.4 532.9,321.6 534.9,325.1 536.9,328.9 539.0,328.7 541.0,324.3 543.0,329.2 545.0,324.4 547.0,328.2 549.0,327.0 551.0,328.7 553.0,323.9 555.1,328.9 557.1,325.2 559.1,325.8 561.1,325.6 563.1,328.2 565.1,324.3 567.1,326.8 569.1,325.4 571.2,329.0 573.2,328.0 575.2,320.8 577.2,325.8 579.2,324.3 581.2,326.2 583.2,326.0 585.2,326.5 587.3,320.3 589.3,322.4 591.3,328.1 593.3,328.6 595.3,329.1 597.3,327.9 599.3,330.2 601.3,321.4 603.4,326.2 605.4,326.4 607.4,327.9 609.4,328.0 611.4,324.3 613.4,321.4 615.4,330.0 617.4,325.3 619.5,328.8 621.5,329.3 623.5,326.4 625.5,326.9 627.5,326.6 629.5,327.9 631.5,329.7 633.5,328.9 635.6,325.3 637.6,327.1 639.6,329.8 641.6,323.5 643.6,323.0 645.6,327.6 647.6,325.0 649.6,327.2 651.7,325.5 653.7,327.9 655.7,329.0 657.7,326.3 659.7,326.3 661.7,321.1 663.7,328.4 665.8,328.1 667.8,325.7 669.8,327.9 671.8,328.5 673.8,327.6 675.8,328.4 677.8,323.6 679.8,325.8 681.8,326.8 683.9,328.2 685.9,327.2 687.9,323.8 689.9,328.1 691.9,328.5 693.9,326.6 695.9,326.0 697.9,328.5 700.0,326.8 702.0,328.5 704.0,325.8 706.0,330.2 708.0,329.1 710.0,325.3 712.0,326.3 714.0,324.9 716.1,327.6 718.1,324.2 720.1,325.9 722.1,327.7 724.1,325.0 726.1,326.8 728.1,328.3 730.1,329.5 732.2,328.5 734.2,329.4 736.2,325.8 738.2,325.9 740.2,325.3 742.2,329.4 744.2,327.1 746.2,326.6 748.3,325.7 750.3,327.5 752.3,326.0 754.3,319.8 756.3,329.0 758.3,325.2 760.3,324.0 762.3,322.1 764.4,327.1 766.4,324.2 768.4,325.1 770.4,328.5 772.4,320.6 774.4,320.9 776.4,324.3 778.5,327.3 780.5,325.8 782.5,320.7 784.5,327.4 786.5,326.6 788.5,328.2 790.5,325.4 792.5,327.0 794.5,328.4 796.6,326.1 798.6,328.4 800.6,322.5 802.6,327.1 804.6,326.8 806.6,325.4 808.6,329.6 810.6,328.1 812.7,326.5 814.7,328.0 816.7,325.8 818.7,328.2 820.7,327.4 822.7,321.1 824.7,327.3 826.8,325.2 828.8,327.5 830.8,326.5 832.8,327.8 834.8,325.3 836.8,325.0 838.8,322.3 840.8,328.8 842.8,330.2 844.9,325.4 846.9,327.1 848.9,328.5 850.9,326.9 852.9,329.0 854.9,324.5 856.9,328.2 858.9,325.2 861.0,327.0 863.0,327.5 865.0,326.8 867.0,328.1 869.0,327.0 871.0,326.9 873.0,326.4 875.0,325.9 877.1,327.9 879.1,327.3 881.1,325.1 883.1,329.4 885.1,326.9 887.1,320.2 889.1,327.5 891.1,322.6 893.2,322.8 895.2,323.7 897.2,329.9 899.2,330.2 901.2,327.5 903.2,326.0 905.2,330.2 907.2,327.3 909.3,327.7 911.3,327.6 913.3,329.2 915.3,326.2" fill="none" stroke="none" marker-start="url(#mt)" marker-mid="url(#mt)" marker-end="url(#mt)"/><polyline points="514.4,233.3 515.6,222.1 518.0,213.7 520.0,215.7 520.1,210.1 522.4,194.8 524.0,243.6 525.9,203.2 527.9,220.1 529.9,187.8 531.5,175.5 533.9,222.1 535.9,192.8 538.5,210.8 541.5,227.7 542.9,238.2 544.3,208.4 546.9,239.6 548.5,194.8 550.4,203.8 551.8,236.7 553.8,255.0 556.1,216.5 556.8,230.1 557.4,223.1 559.8,247.6 563.4,204.8 564.8,190.8 566.8,203.4 568.3,204.6 568.8,221.3 569.8,217.7 572.8,194.8 574.7,238.6 576.7,197.8 578.3,276.1 579.7,237.1 581.7,235.7 583.7,224.1 586.7,235.9 588.7,213.7 590.7,224.7 591.8,210.9 592.7,215.7 595.3,240.6 596.7,219.7 598.7,197.4 600.6,240.0 602.2,257.6 604.0,217.1 606.2,201.4 608.6,260.0 610.0,215.3 613.2,214.7 617.2,183.3 617.2,233.7 620.6,240.6 623.2,211.8 624.5,217.7 626.5,179.5 628.5,200.4 631.1,210.8 632.5,217.7 633.9,207.2 634.8,239.5 636.5,237.6 638.5,231.7 639.9,237.9 640.5,208.8 643.9,207.8 644.5,192.2 647.1,199.4 647.5,194.8 650.4,219.1 652.4,194.8 655.0,218.7 656.8,230.7 658.4,218.7 660.4,192.4 663.4,272.5 665.0,201.4 667.0,245.2 669.4,220.1 671.0,156.0 673.0,244.6 676.3,226.7 678.9,179.5 680.9,195.4 682.9,215.7 684.3,227.7 686.9,197.8 688.2,248.6 688.9,192.4 691.3,215.3 692.0,241.7 693.7,225.7 697.3,192.4 699.3,199.8 701.2,231.7 702.8,263.9 704.8,187.5 707.2,198.4 709.2,209.8 711.2,213.3 712.8,207.8 717.0,207.8 718.0,216.7 720.1,224.1 721.6,241.2 723.6,198.8 725.0,218.7 728.9,194.2 731.5,202.2 732.9,219.3 736.3,204.2 737.7,236.5 739.5,188.4 741.5,195.4 743.5,241.6 745.9,193.4 747.5,186.3 749.5,259.6 750.9,219.3 753.4,195.8 755.2,242.6 755.8,228.7 757.4,223.6 759.8,211.8 760.8,225.3 764.2,249.0 766.2,208.2 769.4,228.1 770.2,232.1 772.8,223.7 775.8,245.2 777.1,240.9 777.7,226.7 779.3,206.8 781.7,227.7 783.7,202.8 785.3,261.0 786.3,221.8 786.7,222.1 790.1,199.2 791.7,256.6 794.1,224.1 795.7,257.0 798.7,231.3 801.3,214.7 804.2,200.4 807.2,211.4 809.2,192.8 811.2,277.9 814.2,186.3 816.0,220.7 817.6,208.8 821.2,236.7 823.6,186.3 825.6,242.0 827.5,226.1 829.5,215.3 831.5,208.2 833.5,169.3 834.3,219.1 835.5,193.8 837.5,242.0 839.9,226.7 842.5,206.8 846.5,207.2 847.5,256.6 849.5,215.3 851.5,221.3 854.4,236.3 855.4,198.8 857.4,202.2 859.4,187.8 861.0,206.2 865.4,226.7 867.4,217.7 870.4,208.2 872.0,245.2 874.4,203.4 875.4,239.2 877.7,186.9 878.9,231.7 882.9,230.1 885.7,225.3 887.3,287.8 890.3,197.4 892.9,225.7 894.3,221.1 898.3,241.2 900.3,199.4 904.2,158.0 906.2,220.1 907.2,179.5 910.2,225.7 911.2,181.9 913.4,227.9 914.8,213.7" fill="none" stroke="none" marker-start="url(#ma)" marker-mid="url(#ma)" marker-end="url(#ma)"/><polyline points="515.0,223.3 516.4,262.0 517.3,275.6 518.0,249.0 520.0,243.6 522.0,255.2 524.4,228.1 526.3,261.2 527.9,279.9 529.9,250.6 531.9,240.2 533.9,230.3 535.9,272.5 538.9,235.7 540.9,250.6 542.9,265.5 544.3,223.3 546.3,301.0 550.2,230.7 551.8,261.2 553.8,246.0 555.8,264.1 558.2,257.2 559.8,276.5 562.8,249.6 564.8,276.9 566.4,269.5 568.8,281.9 571.2,269.5 572.8,291.4 574.2,254.6 576.7,256.6 577.7,247.6 580.1,250.6 582.7,223.3 584.3,222.1 585.7,269.5 589.1,261.0 591.3,270.5 592.7,297.8 594.7,237.1 596.7,213.7 598.3,254.2 602.6,248.6 604.2,271.5 605.6,287.5 608.6,289.4 609.6,235.7 612.6,235.7 615.6,235.1 617.6,230.7 619.2,267.5 622.6,272.5 624.5,226.7 626.5,269.5 628.5,240.6 630.5,258.6 633.5,266.5 636.5,258.6 638.9,237.6 641.1,256.6 642.9,276.1 645.1,244.0 646.5,280.5 648.9,252.6 651.0,277.5 654.4,279.5 655.0,255.2 657.0,258.6 659.4,283.1 663.8,285.1 665.4,265.5 667.0,209.8 669.4,273.5 670.8,232.7 673.0,250.6 674.9,219.3 676.9,263.1 678.9,270.5 680.9,258.0 682.3,220.1 684.9,253.0 686.9,244.0 689.7,222.1 690.9,259.2 692.9,253.0 695.7,261.2 697.3,216.7 699.3,269.5 701.2,218.7 702.8,273.9 706.8,257.6 708.8,271.1 710.8,231.7 713.2,265.1 714.2,292.4 715.2,258.6 716.0,248.8 716.0,292.4 717.6,258.6 719.6,279.1 721.0,223.7 723.6,258.6 725.0,226.7 726.9,289.4 728.9,262.5 730.9,269.5 732.9,265.1 734.9,245.6 736.9,249.6 739.5,272.5 741.9,214.7 743.5,258.2 745.9,272.5 746.9,265.5 749.5,286.1 751.5,255.2 752.3,243.1 753.8,226.7 754.8,220.7 757.4,248.6 758.8,212.7 761.8,213.3 763.8,271.5 765.8,297.0 767.8,245.2 770.4,247.0 771.4,290.4 773.4,296.4 775.4,269.5 777.3,278.1 778.7,243.0 781.3,284.1 783.3,242.0 785.3,259.6 787.3,229.7 790.1,239.2 791.7,282.5 793.7,267.9 796.1,283.9 798.1,239.2 799.7,220.1 801.6,250.6 803.6,254.6 805.2,263.1 807.2,285.1 809.2,217.7 811.2,247.6 814.0,292.4 816.6,237.6 818.0,247.0 819.6,262.9 822.0,257.0 823.6,220.7 826.5,236.1 828.1,237.1 829.5,277.9 831.9,221.7 833.5,230.1 835.5,279.1 837.5,283.9 839.1,247.4 839.9,262.5 842.1,261.6 844.5,260.2 845.5,239.2 847.9,277.9 850.1,242.0 851.8,253.2 853.4,260.0 855.8,270.5 857.8,279.1 860.0,258.6 861.4,250.6 864.4,260.2 866.4,271.1 867.8,230.7 870.4,232.1 872.4,258.6 874.4,222.1 875.8,264.9 877.7,251.6 879.9,236.1 881.7,268.5 883.7,259.2 885.3,266.5 887.3,274.5 890.3,287.1 892.3,230.7 894.3,222.7 896.3,280.5 897.7,233.7 900.3,259.6 901.6,223.3 904.2,213.3 906.2,255.2 908.2,279.1 910.2,248.6 912.2,286.5 914.8,271.9" fill="none" stroke="none" marker-start="url(#mc)" marker-mid="url(#mc)" marker-end="url(#mc)"/><polyline points="514.8,59.7 516.8,60.8 518.8,51.8 520.8,77.3 522.9,70.5 524.9,91.4 526.9,66.8 528.9,72.6 530.9,59.9 532.9,97.4 534.9,85.8 536.9,81.3 539.0,104.4 541.0,72.9 543.0,51.5 545.0,56.1 547.0,55.5 549.0,65.3 551.0,47.2 553.0,73.4 555.1,84.3 557.1,59.2 559.1,55.2 561.1,70.7 563.1,63.9 565.1,77.0 567.1,72.2 569.1,84.1 571.2,54.9 573.2,71.6 575.2,79.9 577.2,53.0 579.2,69.3 581.2,73.5 583.2,84.1 585.2,60.0 587.3,76.3 589.3,68.9 591.3,65.7 593.3,67.4 595.3,59.3 597.3,69.6 599.3,58.7 601.3,73.4 603.4,78.5 605.4,72.8 607.4,57.0 609.4,74.0 611.4,79.0 613.4,86.0 615.4,82.5 617.4,79.5 619.5,103.9 621.5,70.8 623.5,70.4 625.5,61.1 627.5,67.0 629.5,83.6 631.5,75.5 633.5,82.7 635.6,80.7 637.6,50.9 639.6,68.3 641.6,86.0 643.6,88.3 645.6,69.6 647.6,72.0 649.6,64.1 651.7,66.3 653.7,93.5 655.7,65.8 657.7,93.1 659.7,85.2 661.7,94.0 663.7,72.6 665.8,59.7 667.8,82.8 669.8,67.7 671.8,90.4 673.8,45.7 675.8,41.9 677.8,85.9 679.8,88.4 681.8,80.1 683.9,85.1 685.9,67.2 687.9,47.4 689.9,83.9 691.9,72.5 693.9,94.6 695.9,101.3 697.9,74.5 700.0,58.3 702.0,92.1 704.0,57.3 706.0,83.4 708.0,65.8 710.0,94.2 712.0,103.4 714.0,85.3 716.1,104.2 718.1,67.2 720.1,78.7 722.1,41.9 724.1,77.9 726.1,86.6 728.1,81.8 730.1,88.2 732.2,70.2 734.2,72.1 736.2,110.4 738.2,61.8 740.2,75.3 742.2,57.9 744.2,85.3 746.2,73.3 748.3,81.1 750.3,88.9 752.3,48.5 754.3,68.5 756.3,76.4 758.3,81.4 760.3,89.4 762.3,72.8 764.4,84.0 766.4,87.7 768.4,78.2 770.4,81.1 772.4,58.5 774.4,88.7 776.4,99.2 778.5,60.1 780.5,77.5 782.5,89.8 784.5,58.5 786.5,65.2 788.5,103.8 790.5,62.9 792.5,60.0 794.5,53.7 796.6,71.1 798.6,85.3 800.6,77.5 802.6,55.9 804.6,80.5 806.6,59.7 808.6,91.5 810.6,79.8 812.7,67.9 814.7,68.1 816.7,66.6 818.7,101.9 820.7,58.1 822.7,62.9 824.7,61.7 826.8,91.0 828.8,57.2 830.8,81.7 832.8,91.8 834.8,73.7 836.8,96.0 838.8,87.9 840.8,68.2 842.8,77.2 844.9,91.3 846.9,48.3 848.9,81.8 850.9,88.7 852.9,81.8 854.9,78.8 856.9,74.3 858.9,73.3 861.0,72.1 863.0,83.5 865.0,86.1 867.0,67.0 869.0,78.7 871.0,82.3 873.0,67.5 875.0,76.2 877.1,89.6 879.1,82.6 881.1,65.7 883.1,71.0 885.1,79.0 887.1,52.5 889.1,77.4 891.1,79.7 893.2,73.1 895.2,82.9 897.2,89.6 899.2,67.4 901.2,69.7 903.2,75.4 905.2,77.9 907.2,99.8 909.3,67.1 911.3,114.0 913.3,67.0 915.3,85.0" fill="none" stroke="none" marker-start="url(#ms)" marker-mid="url(#ms)" marker-end="url(#ms)"/><polyline points="514.8,331.1 516.8,331.1 518.8,331.1 520.8,331.1 522.9,331.1 524.9,331.1 526.9,331.1 528.9,331.1 530.9,331.1 532.9,331.1 534.9,331.1 536.9,331.1 539.0,331.1 541.0,331.1 543.0,331.1 545.0,331.1 547.0,331.1 549.0,331.1 551.0,331.1 553.0,331.1 555.1,331.1 557.1,331.1 559.1,331.1 561.1,331.1 563.1,331.1 565.1,331.1 567.1,331.1 569.1,331.1 571.2,331.1 573.2,331.1 575.2,331.1 577.2,331.1 579.2,331.1 581.2,331.1 583.2,331.1 585.2,331.1 587.3,331.1 589.3,331.1 591.3,331.1 593.3,331.1 595.3,331.1 597.3,331.1 599.3,331.1 601.3,331.1 603.4,331.1 605.4,331.1 607.4,331.1 609.4,331.1 611.4,331.1 613.4,331.1 615.4,331.1 617.4,331.1 619.5,331.1 621.5,331.1 623.5,331.1 625.5,331.1 627.5,331.1 629.5,331.1 631.5,331.1 633.5,331.1 635.6,331.1 637.6,331.1 639.6,331.1 641.6,331.1 643.6,331.1 645.6,331.1 647.6,331.1 649.6,331.1 651.7,331.1 653.7,331.1 655.7,331.1 657.7,331.1 659.7,331.1 661.7,331.1 663.7,331.1 665.8,331.1 667.8,331.1 669.8,331.1 671.8,331.1 673.8,331.1 675.8,331.1 677.8,331.1 679.8,331.1 681.8,331.1 683.9,331.1 685.9,331.1 687.9,331.1 689.9,331.1 691.9,331.1 693.9,331.1 695.9,331.1 697.9,331.1 700.0,331.1 702.0,331.1 704.0,331.1 706.0,331.1 708.0,331.1 710.0,331.1 712.0,331.1 714.0,331.1 716.1,331.1 718.1,331.1 720.1,331.1 722.1,331.1 724.1,331.1 726.1,331.1 728.1,331.1 730.1,331.1 732.2,331.1 734.2,331.1 736.2,331.1 738.2,331.1 740.2,331.1 742.2,331.1 744.2,331.1 746.2,331.1 748.3,331.1 750.3,331.1 752.3,331.1 754.3,331.1 756.3,331.1 758.3,331.1 760.3,331.1 762.3,331.1 764.4,331.1 766.4,331.1 768.4,331.1 770.4,331.1 772.4,331.1 774.4,331.1 776.4,331.1 778.5,331.1 780.5,331.1 782.5,331.1 784.5,331.1 786.5,331.1 788.5,331.1 790.5,331.1 792.5,331.1 794.5,331.1 796.6,331.1 798.6,331.1 800.6,331.1 802.6,331.1 804.6,331.1 806.6,331.1 808.6,331.1 810.6,331.1 812.7,331.1 814.7,331.1 816.7,331.1 818.7,331.1 820.7,331.1 822.7,331.1 824.7,331.1 826.8,331.1 828.8,331.1 830.8,331.1 832.8,331.1 834.8,331.1 836.8,331.1 838.8,331.1 840.8,331.1 842.8,331.1 844.9,331.1 846.9,331.1 848.9,331.1 850.9,331.1 852.9,331.1 854.9,331.1 856.9,331.1 858.9,331.1 861.0,331.1 863.0,331.1 865.0,331.1 867.0,331.1 869.0,331.1 871.0,331.1 873.0,331.1 875.0,331.1 877.1,331.1 879.1,331.1 881.1,331.1 883.1,331.1 885.1,331.1 887.1,331.1 889.1,331.1 891.1,331.1 893.2,331.1 895.2,331.1 897.2,331.1 899.2,331.1 901.2,331.1 903.2,331.1 905.2,331.1 907.2,331.1 909.3,331.1 911.3,331.1 913.3,331.1 915.3,331.1" fill="none" stroke="none" marker-start="url(#mx)" marker-mid="url(#mx)" marker-end="url(#mx)"/><line x1="512.8" x2="915.3" y1="146.5" y2="146.5" stroke="#f88" stroke-width="1"/><line x1="512.8" x2="915.3" y1="292.5" y2="292.5" stroke="#f88" stroke-width="1"/><text x="502.5" y="17.6" font-size="17.5" text-anchor="middle" >1.4</text><text x="500.8" y="60" font-size="17.5" text-anchor="middle" >1.2</text><text x="500.2" y="108" font-size="17.5" text-anchor="middle" >1</text><text x="500.3" y="153.6" font-size="17.5" text-anchor="middle" >0.8</text><text x="500.3" y="199" font-size="17.5" text-anchor="middle" >0.6</text><text x="500.3" y="246.3" font-size="17.5" text-anchor="middle" >0.4</text><text x="500.3" y="293" font-size="17.5" text-anchor="middle" >0.2</text><text x="503" y="334" font-size="17.5" text-anchor="middle" >0</text><text x="512.5" y="349" font-size="17.5" text-anchor="middle" >0</text><text x="547" y="349" font-size="17.5" text-anchor="middle" >20</text><text x="581.25" y="349" font-size="17.5" text-anchor="middle" >40</text><text x="615.5" y="349" font-size="17.5" text-anchor="middle" >60</text><text x="650" y="349" font-size="17.5" text-anchor="middle" >80</text><text x="692" y="349" font-size="17.5" text-anchor="middle" >100</text><text x="736.25" y="349" font-size="17.5" text-anchor="middle" >120</text><text x="783.75" y="349" font-size="17.5" text-anchor="middle" >140</text><text x="831.25" y="349" font-size="17.5" text-anchor="middle" >160</text><text x="876.25" y="349" font-size="17.5" text-anchor="middle" >180</text><text x="919.5" y="349" font-size="17.5" text-anchor="middle" >200</text><text x="728.3" y="365" font-size="18" text-anchor="middle" >Test times</text><text transform="translate(482,182) rotate(-90)" font-size="18">E<tspan font-size="10.5" dy="1">std</tspan></text><text x="749" y="403" font-size="26" font-weight="bold" text-anchor="middle">(b)</text><rect x="920.9" y="11.7" width="90.4" height="303.8" fill="#fff" stroke="#aaa" stroke-width="1.2"/><use href="#sd" x="952.6" y="34.4"/><use href="#sp" x="952.6" y="72"/><use href="#st" x="952.6" y="107.3"/><use href="#sa" x="952.6" y="145"/><use href="#sc" x="952.6" y="181.7"/><use href="#ss" x="952.6" y="218.5"/><use href="#sx" x="952.6" y="254.6"/><line x1="929" x2="975.6" y1="291.4" y2="291.4" stroke="#f44" stroke-width="1"/><text x="960.6" y="53.6" font-size="14.3" text-anchor="middle" >harmonics</text><text x="955.5" y="90.5" font-size="14.3" text-anchor="middle" >sag</text><text x="956.9" y="125" font-size="14.3" text-anchor="middle" >swell</text><text x="963.5" y="161.6" font-size="14.3" text-anchor="middle" >interruption</text><text x="962.5" y="199.3" font-size="14.3" text-anchor="middle" >impulsive</text><text x="962.1" y="234.5" font-size="14.3" text-anchor="middle" >oscillation</text><text x="962.7" y="271.4" font-size="14.3" text-anchor="middle" >fluctuation</text><text x="962.9" y="305" font-size="14.3" text-anchor="middle" >Threshold</text><path d="M160.9 752.8v-4.2M160.9 419v4.2M262.8 752.8v-4.2M262.8 419v4.2M364.6 752.8v-4.2M364.6 419v4.2M59.1 752.8h4.2M466.5 752.8h-4.2M59.1 719.4h4.2M466.5 719.4h-4.2M59.1 686.0h4.2M466.5 686.0h-4.2M59.1 652.7h4.2M466.5 652.7h-4.2M59.1 619.3h4.2M466.5 619.3h-4.2M59.1 585.9h4.2M466.5 585.9h-4.2M59.1 552.5h4.2M466.5 552.5h-4.2M59.1 519.1h4.2M466.5 519.1h-4.2M59.1 485.8h4.2M466.5 485.8h-4.2M59.1 452.4h4.2M466.5 452.4h-4.2M59.1 419.0h4.2M466.5 419.0h-4.2" stroke="#777" stroke-width="1" fill="none"/><rect x="59.1" y="419" width="407.4" height="333.8" fill="none" stroke="#999" stroke-width="1"/><polyline points="61.1,692.6 63.2,692.2 65.2,693.8 67.2,693.4 69.3,694.1 71.3,692.4 73.4,695.0 75.4,695.9 77.4,687.4 79.5,687.4 81.5,692.9 83.5,689.0 85.6,693.5 87.6,690.6 89.7,691.0 91.7,693.5 93.7,693.5 95.8,696.5 97.8,698.7 99.8,689.9 101.9,697.9 103.9,696.1 106.0,689.4 108.0,696.3 110.0,703.6 112.1,705.0 114.1,689.8 116.1,692.1 118.2,690.4 120.2,690.5 122.2,695.0 124.3,690.7 126.3,699.4 128.4,687.4 130.4,694.7 132.4,698.7 134.5,696.4 136.5,692.8 138.5,691.1 140.6,696.0 142.6,689.2 144.7,692.2 146.7,696.3 148.7,693.3 150.8,693.1 152.8,697.0 154.8,702.1 156.9,695.4 158.9,693.1 160.9,690.6 163.0,692.4 165.0,693.9 167.1,692.0 169.1,688.7 171.1,696.6 173.2,695.6 175.2,694.3 177.2,699.7 179.3,690.9 181.3,691.2 183.4,694.0 185.4,691.8 187.4,691.1 189.5,689.4 191.5,696.1 193.5,691.7 195.6,694.4 197.6,697.0 199.7,695.9 201.7,689.6 203.7,694.9 205.8,696.5 207.8,694.4 209.8,703.3 211.9,689.0 213.9,692.6 215.9,691.6 218.0,696.7 220.0,690.4 222.1,693.3 224.1,692.8 226.1,688.0 228.2,689.2 230.2,690.6 232.2,688.2 234.3,691.3 236.3,702.4 238.4,696.6 240.4,694.7 242.4,687.4 244.5,698.1 246.5,696.7 248.5,694.7 250.6,687.4 252.6,698.0 254.7,705.1 256.7,692.5 258.7,691.7 260.8,699.9 262.8,690.9 264.8,694.3 266.9,697.7 268.9,694.0 270.9,690.2 273.0,688.5 275.0,693.9 277.1,687.4 279.1,696.4 281.1,693.3 283.2,698.8 285.2,687.7 287.2,690.0 289.3,696.0 291.3,692.9 293.4,695.0 295.4,697.1 297.4,702.8 299.5,698.2 301.5,692.7 303.5,695.4 305.6,705.0 307.6,692.3 309.7,692.9 311.7,697.6 313.7,691.2 315.8,695.0 317.8,692.8 319.8,693.3 321.9,687.4 323.9,687.4 325.9,691.1 328.0,690.4 330.0,692.8 332.1,688.4 334.1,695.0 336.1,696.1 338.2,689.7 340.2,694.8 342.2,697.9 344.3,693.7 346.3,695.1 348.4,696.9 350.4,690.5 352.4,691.8 354.5,693.7 356.5,697.9 358.5,696.2 360.6,692.9 362.6,690.9 364.6,690.7 366.7,706.0 368.7,692.3 370.8,687.4 372.8,703.3 374.8,691.3 376.9,695.4 378.9,688.8 380.9,694.4 383.0,689.4 385.0,690.0 387.1,689.7 389.1,687.4 391.1,695.3 393.2,694.9 395.2,702.3 397.2,696.6 399.3,688.1 401.3,701.3 403.4,706.6 405.4,698.6 407.4,690.0 409.5,696.3 411.5,699.6 413.5,698.4 415.6,692.2 417.6,690.8 419.6,692.0 421.7,694.1 423.7,696.7 425.8,691.7 427.8,691.0 429.8,704.6 431.9,692.4 433.9,696.0 435.9,691.6 438.0,689.9 440.0,700.4 442.1,691.4 444.1,696.9 446.1,688.1 448.2,695.6 450.2,694.3 452.2,689.6 454.3,695.0 456.3,698.0 458.4,698.3 460.4,692.1 462.4,693.8 464.5,695.4 466.5,696.2" fill="none" stroke="none" marker-start="url(#md)" marker-mid="url(#md)" marker-end="url(#md)"/><polyline points="63.2,686.0 65.2,686.0 67.2,686.0 69.3,686.0 71.3,686.0 73.4,686.0 77.4,686.0 79.5,686.0 83.4,587.2 83.5,686.0 87.3,611.8 87.6,686.0 89.7,686.0 91.7,686.0 93.7,686.0 95.0,531.6 95.8,686.0 97.8,686.0 99.8,686.0 101.9,686.0 103.7,603.1 103.9,686.0 106.0,686.0 108.0,686.0 112.1,686.0 113.5,624.9 114.1,686.0 116.1,686.0 118.2,686.0 120.2,686.0 122.2,686.0 126.3,686.0 128.4,686.0 130.4,686.0 132.4,686.0 134.5,686.0 135.7,635.8 138.5,686.0 140.6,686.0 141.4,591.1 142.6,686.0 144.7,686.0 146.7,686.0 150.8,686.0 152.8,686.0 154.8,686.0 156.9,686.0 158.2,675.6 160.9,686.0 163.0,686.0 165.0,686.0 167.1,686.0 169.1,686.0 171.1,686.0 173.2,686.0 175.0,605.7 175.2,686.0 177.2,686.0 179.3,686.0 181.3,686.0 183.4,686.0 185.4,686.0 187.4,686.0 189.5,686.0 191.5,686.0 193.5,686.0 195.6,686.0 197.6,686.0 199.7,686.0 201.3,636.9 201.7,686.0 202.9,530.5 203.7,686.0 205.8,686.0 207.8,686.0 209.8,686.0 211.6,670.6 211.9,686.0 213.9,686.0 215.9,686.0 218.0,686.0 220.0,686.0 222.1,686.0 224.1,686.0 225.1,640.1 226.1,686.0 228.2,686.0 229.4,635.8 230.2,686.0 232.2,686.0 234.3,686.0 236.3,686.0 238.4,686.0 242.4,686.0 244.5,686.0 246.5,686.0 248.5,686.0 250.6,686.0 252.6,686.0 254.7,686.0 258.7,686.0 260.6,624.9 260.8,686.0 262.8,686.0 264.8,686.0 266.9,686.0 268.9,686.0 270.9,686.0 273.0,686.0 275.0,686.0 279.1,686.0 281.2,605.3 283.2,686.0 286.6,642.7 287.2,686.0 289.3,686.0 293.4,686.0 297.3,507.2 297.4,686.0 299.5,686.0 301.5,686.0 303.5,686.0 305.6,686.0 307.6,686.0 309.7,686.0 311.7,686.0 313.7,686.0 315.8,686.0 319.8,686.0 323.9,686.0 325.9,686.0 328.0,686.0 330.0,686.0 332.1,686.0 334.1,686.0 338.2,686.0 340.2,686.0 342.2,686.0 344.2,665.2 344.3,686.0 348.4,686.0 350.4,686.0 352.4,686.0 354.5,686.0 356.5,686.0 358.5,686.0 360.6,686.0 362.6,686.0 366.7,686.0 368.4,638.6 368.7,686.0 370.8,686.0 374.8,686.0 376.0,628.6 376.9,686.0 378.2,661.3 378.9,686.0 380.9,686.0 383.0,686.0 385.0,686.0 387.1,686.0 389.1,686.0 395.2,686.0 396.5,638.0 397.2,686.0 400.4,634.3 401.3,686.0 405.4,686.0 407.4,686.0 409.5,686.0 411.5,686.0 413.5,686.0 415.6,686.0 417.2,651.7 417.6,686.0 419.6,686.0 421.7,686.0 423.7,686.0 425.8,686.0 427.8,686.0 429.8,686.0 431.9,686.0 433.9,686.0 434.2,647.3 435.9,686.0 438.0,686.0 438.1,645.6 440.0,686.0 441.4,629.2 442.1,686.0 444.1,686.0 450.2,686.0 452.2,686.0 454.3,686.0 456.3,686.0 458.4,686.0 460.4,686.0 462.4,686.0 464.5,686.0 466.5,686.0" fill="none" stroke="none" marker-start="url(#mp)" marker-mid="url(#mp)" marker-end="url(#mp)"/><polyline points="61.1,685.7 63.2,685.7 65.2,685.7 67.2,685.7 69.3,685.7 71.3,685.7 73.4,685.7 75.4,685.7 77.4,685.7 79.5,685.7 81.5,685.7 83.5,685.7 85.6,685.7 87.6,685.7 89.7,685.7 91.7,685.7 93.7,685.7 95.8,685.7 97.8,685.7 99.8,685.7 101.9,685.7 103.9,685.7 106.0,685.7 108.0,685.7 110.0,685.7 112.1,685.7 114.1,685.7 116.1,685.7 118.2,685.7 120.2,685.7 122.2,685.7 124.3,685.7 126.3,685.7 128.4,685.7 130.4,685.7 132.4,685.7 134.5,685.7 136.5,685.7 138.5,685.7 140.6,685.7 142.6,685.7 144.7,685.7 146.7,685.7 148.7,685.7 150.8,685.7 152.8,685.7 154.8,685.7 156.9,685.7 158.9,685.7 160.9,685.7 163.0,685.7 165.0,685.7 167.1,685.7 169.1,685.7 171.1,685.7 173.2,685.7 175.2,685.7 177.2,685.7 179.3,685.7 181.3,685.7 183.4,685.7 185.4,685.7 187.4,685.7 189.5,685.7 191.5,685.7 193.5,685.7 195.6,685.7 197.6,685.7 199.7,685.7 201.7,685.7 203.7,685.7 205.8,685.7 207.8,685.7 209.8,685.7 211.9,685.7 213.9,685.7 215.9,685.7 218.0,685.7 220.0,685.7 222.1,685.7 224.1,685.7 226.1,685.7 228.2,685.7 230.2,685.7 232.2,685.7 234.3,685.7 236.3,685.7 238.4,685.7 240.4,685.7 242.4,685.7 244.5,685.7 246.5,685.7 248.5,685.7 250.6,685.7 252.6,685.7 254.7,685.7 256.7,685.7 258.7,685.7 260.8,685.7 262.8,685.7 264.8,685.7 266.9,685.7 268.9,685.7 270.9,685.7 273.0,685.7 275.0,685.7 277.1,685.7 279.1,685.7 281.1,685.7 283.2,685.7 285.2,685.7 287.2,685.7 289.3,685.7 291.3,685.7 293.4,685.7 295.4,685.7 297.4,685.7 299.5,685.7 301.5,685.7 303.5,685.7 305.6,685.7 307.6,685.7 309.7,685.7 311.7,685.7 313.7,685.7 315.8,685.7 317.8,685.7 319.8,685.7 321.9,685.7 323.9,685.7 325.9,685.7 328.0,685.7 330.0,685.7 332.1,685.7 334.1,685.7 336.1,685.7 338.2,685.7 340.2,685.7 342.2,685.7 344.3,685.7 346.3,685.7 348.4,685.7 350.4,685.7 352.4,685.7 354.5,685.7 356.5,685.7 358.5,685.7 360.6,685.7 362.6,685.7 364.6,685.7 366.7,685.7 368.7,685.7 370.8,685.7 372.8,685.7 374.8,685.7 376.9,685.7 378.9,685.7 380.9,685.7 383.0,685.7 385.0,685.7 387.1,685.7 389.1,685.7 391.1,685.7 393.2,685.7 395.2,685.7 397.2,685.7 399.3,685.7 401.3,685.7 403.4,685.7 405.4,685.7 407.4,685.7 409.5,685.7 411.5,685.7 413.5,685.7 415.6,685.7 417.6,685.7 419.6,685.7 421.7,685.7 423.7,685.7 425.8,685.7 427.8,685.7 429.8,685.7 431.9,685.7 433.9,685.7 435.9,685.7 438.0,685.7 440.0,685.7 442.1,685.7 444.1,685.7 446.1,685.7 448.2,685.7 450.2,685.7 452.2,685.7 454.3,685.7 456.3,685.7 458.4,685.7 460.4,685.7 462.4,685.7 464.5,685.7 466.5,685.7" fill="none" stroke="none" marker-start="url(#mt)" marker-mid="url(#mt)" marker-end="url(#mt)"/><polyline points="61.1,425.7 63.2,425.7 67.2,425.7 69.3,425.7 71.3,425.7 73.4,425.7 75.4,425.7 77.4,425.7 79.5,425.7 81.5,425.7 83.5,425.7 85.6,425.7 87.6,425.7 89.7,425.7 91.7,425.7 93.7,425.7 95.8,425.7 97.8,425.7 99.8,425.7 100.8,471.3 101.9,425.7 103.9,425.7 106.0,425.7 108.0,425.7 110.0,425.7 114.1,425.7 116.1,425.7 118.2,425.7 122.2,425.7 124.3,425.7 126.1,507.7 126.3,425.7 128.4,425.7 132.4,425.7 134.5,425.7 136.5,425.7 138.5,425.7 140.6,425.7 142.6,425.7 144.7,425.7 146.7,425.7 148.7,425.7 150.8,425.7 152.8,425.7 154.8,425.7 156.4,441.4 156.9,425.7 158.9,425.7 160.9,425.7 163.0,425.7 165.0,425.7 167.1,425.7 169.1,425.7 171.1,425.7 175.2,425.7 177.2,425.7 179.3,425.7 181.3,425.7 183.4,425.7 185.4,425.7 189.5,425.7 191.5,425.7 193.5,425.7 195.6,425.7 197.6,425.7 199.7,425.7 203.7,425.7 205.8,425.7 207.8,425.7 209.8,425.7 211.6,497.0 211.9,425.7 213.9,425.7 215.9,425.7 218.0,425.7 220.0,425.7 221.4,446.7 222.1,425.7 224.1,425.7 226.1,425.7 228.2,425.7 230.2,425.7 232.2,425.7 234.3,425.7 236.3,425.7 238.4,425.7 240.4,425.7 242.4,425.7 244.5,425.7 246.5,425.7 248.5,425.7 250.6,425.7 252.5,474.1 252.6,425.7 254.7,425.7 256.7,425.7 258.7,425.7 262.8,425.7 264.8,425.7 266.9,425.7 268.9,425.7 270.9,425.7 273.0,425.7 275.0,425.7 275.1,432.5 277.1,425.7 279.1,425.7 281.1,425.7 283.2,425.7 285.2,425.7 287.2,425.7 291.3,425.7 293.4,425.7 295.4,425.7 297.4,425.7 299.5,425.7 299.5,465.8 301.5,425.7 303.5,425.7 305.2,443.4 305.6,425.7 307.6,425.7 309.7,425.7 311.7,425.7 313.7,425.7 315.8,425.7 317.8,425.7 319.8,425.7 321.9,425.7 323.7,442.3 323.9,425.7 325.2,433.8 325.9,425.7 328.0,425.7 330.0,425.7 332.1,425.7 334.1,425.7 336.1,425.7 338.2,425.7 340.2,425.7 342.2,470.2 342.2,425.7 344.3,425.7 345.9,445.6 346.3,425.7 348.4,425.7 350.4,425.7 352.4,425.7 354.5,425.7 356.5,425.7 358.5,425.7 360.6,425.7 362.3,492.4 362.6,425.7 364.6,425.7 366.7,425.7 368.7,425.7 370.8,425.7 372.8,425.7 374.8,425.7 376.9,425.7 378.9,425.7 380.9,425.7 383.0,425.7 385.0,425.7 387.1,425.7 389.1,438.6 389.1,425.7 393.2,425.7 395.2,425.7 398.7,432.5 401.3,425.7 403.4,425.7 405.4,425.7 407.4,425.7 409.5,425.7 413.5,425.7 415.6,425.7 417.6,425.7 419.6,425.7 421.7,425.7 423.7,425.7 425.8,425.7 429.8,425.7 431.9,425.7 433.9,425.7 435.9,425.7 438.0,425.7 439.6,593.3 440.0,425.7 442.1,425.7 444.1,425.7 446.1,425.7 448.2,425.7 450.2,425.7 452.2,425.7 454.3,425.7 458.4,425.7 462.4,425.7 466.5,425.7" fill="none" stroke="none" marker-start="url(#ma)" marker-mid="url(#ma)" marker-end="url(#ma)"/><polyline points="91.3,430.3 132.0,433.2 130.5,433.8 143.6,426.0 61.2,441.4 97.1,460.0 71.0,464.8 81.4,467.4 85.2,469.1 141.8,478.3 158.2,468.0 159.9,467.4 164.3,462.6 173.0,459.7 219.6,460.0 215.9,426.0 223.6,428.2 232.3,433.8 238.2,432.5 245.4,432.1 250.2,431.6 260.0,476.7 66.6,492.0 162.5,493.1 186.5,489.8 148.4,502.9 236.0,500.7 64.4,516.4 78.2,511.6 101.1,513.3 126.1,512.7 76.4,523.6 87.3,522.1 176.7,519.2 109.6,537.3 150.5,536.2 193.0,534.0 221.4,544.3 234.0,547.1 242.1,549.1 256.3,543.2 184.3,548.0 189.3,555.2 178.4,556.7 196.8,560.6 202.9,559.5 205.0,561.7 98.9,555.8 105.9,557.8 121.1,557.6 124.0,555.8 127.7,550.2 135.7,555.8 146.2,556.7 68.2,569.3 72.5,570.4 62.9,577.0 182.6,572.6 229.4,567.6 239.9,571.5 243.8,578.5 262.8,571.5 213.8,583.1 95.0,586.3 103.7,590.0 89.1,596.6 134.2,592.9 152.3,598.7 175.0,591.1 180.6,593.7 225.3,593.7 227.3,600.9 247.5,592.9 260.6,590.0 117.4,599.8 113.5,607.5 107.6,609.6 83.0,609.6 137.9,608.5 166.2,607.5 169.1,605.7 171.2,603.7 217.5,608.5 254.5,612.9 259.1,612.9 252.5,621.2 199.1,618.3 201.3,622.7 111.3,623.8 191.3,629.2 195.2,633.2 209.8,639.7 206.8,644.9 74.3,644.9 115.2,644.9 212.0,658.7 154.5,668.0 156.4,675.0 119.6,678.7 262.8,676.1 290.3,425.5 308.9,425.5 311.0,426.0 305.2,433.8 270.3,440.8 275.5,439.3 303.4,450.2 349.8,428.8 360.5,430.3 374.2,436.0 383.0,442.3 425.9,441.9 446.2,434.7 453.8,434.7 456.6,426.6 338.3,465.4 340.0,476.1 348.1,477.4 376.0,464.1 385.1,468.7 378.2,474.6 420.7,462.6 418.9,472.4 443.3,456.7 449.9,461.9 432.0,478.9 284.4,490.2 329.6,493.1 333.3,501.8 318.0,506.8 352.0,514.2 368.1,511.6 366.6,514.9 362.7,520.3 396.5,488.3 400.4,493.1 319.8,525.1 429.4,524.2 462.1,523.1 272.2,541.4 307.1,538.2 286.6,547.1 279.0,556.7 335.5,554.1 354.0,561.7 372.5,565.6 394.5,544.3 391.0,553.0 405.4,553.0 403.7,561.7 413.5,537.3 435.7,560.6 452.1,564.5 458.2,565.6 266.4,571.5 292.5,570.4 301.2,566.5 392.8,575.2 411.3,573.2 415.7,576.3 423.7,573.2 428.1,582.8 437.5,587.2 297.3,585.0 344.2,584.1 355.7,585.0 370.5,587.2 312.8,598.1 325.6,597.0 281.6,603.1 283.1,602.4 295.3,608.5 288.6,617.3 407.4,606.4 417.2,610.3 433.5,605.3 440.1,601.6 464.7,613.6 327.4,624.2 380.8,621.2 386.9,624.2 398.7,628.8 409.6,629.9 459.7,626.0 268.1,632.9 299.1,649.3 342.2,642.7 447.9,637.5 388.9,652.6 321.9,661.3 331.3,657.6 345.9,655.4 357.9,657.6 276.8,666.9 441.2,661.9 463.6,663.0 264.6,676.1 364.4,677.8" fill="none" stroke="none" marker-start="url(#mc)" marker-mid="url(#mc)" marker-end="url(#mc)"/><polyline points="61.1,464.8 63.2,475.6 65.2,486.8 67.2,494.5 69.3,452.7 71.3,468.2 73.4,478.5 75.4,485.5 77.4,469.3 79.5,486.8 81.5,519.1 83.5,508.4 85.6,462.8 87.6,472.4 89.7,522.2 91.7,483.5 93.7,488.5 95.8,521.4 97.8,494.6 99.8,485.5 101.9,494.1 103.9,483.2 106.0,508.3 108.0,466.6 110.0,503.0 112.1,514.9 114.1,465.7 116.1,493.4 118.2,503.8 120.2,482.8 122.2,502.5 124.3,506.4 126.3,466.7 128.4,496.3 130.4,454.3 132.4,493.7 134.5,483.5 136.5,496.1 138.5,488.2 140.6,474.8 142.6,492.9 144.7,517.3 146.7,500.1 148.7,503.3 150.8,479.4 152.8,494.5 154.8,514.1 156.9,506.8 158.9,459.3 160.9,519.6 163.0,496.3 165.0,485.4 167.1,488.2 169.1,453.6 171.1,465.1 173.2,468.4 175.2,449.1 177.2,467.1 179.3,463.8 181.3,494.8 183.4,470.1 185.4,487.5 187.4,494.4 189.5,491.7 191.5,482.0 193.5,507.3 195.6,494.4 197.6,487.6 199.7,481.3 201.7,462.3 203.7,475.7 205.8,506.1 207.8,468.9 209.8,507.2 211.9,463.8 213.9,472.1 215.9,464.7 218.0,509.5 220.0,469.7 222.1,464.4 224.1,487.7 226.1,467.5 228.2,480.6 230.2,461.2 232.2,497.9 234.3,472.6 236.3,492.5 238.4,506.2 240.4,469.6 242.4,506.7 244.5,476.4 246.5,449.3 248.5,454.9 250.6,480.1 252.6,504.7 254.7,477.3 256.7,468.8 258.7,511.9 260.8,493.6 262.8,470.0 264.8,513.3 266.9,453.0 268.9,498.7 270.9,479.3 273.0,503.3 275.0,472.8 277.1,486.0 279.1,467.8 281.1,465.2 283.2,520.7 285.2,473.8 287.2,445.7 289.3,518.3 291.3,485.1 293.4,468.7 295.4,470.5 297.4,522.0 299.5,495.8 301.5,494.8 303.5,485.1 305.6,495.2 307.6,471.5 309.7,468.9 311.7,471.9 313.7,504.5 315.8,477.4 317.8,457.2 319.8,478.8 321.9,491.8 323.9,467.5 325.9,482.3 328.0,510.6 330.0,483.4 332.1,502.2 334.1,472.6 336.1,484.6 338.2,486.7 340.2,445.7 342.2,462.5 344.3,477.4 346.3,471.3 348.4,462.8 350.4,475.4 352.4,486.2 354.5,472.4 356.5,469.2 358.5,479.2 360.6,490.1 362.6,495.0 364.6,497.5 366.7,473.1 368.7,470.5 370.8,453.4 372.8,519.0 374.8,475.3 376.9,462.6 378.9,489.6 380.9,493.3 383.0,484.4 385.0,505.3 387.1,467.1 389.1,465.3 391.1,491.9 393.2,469.2 395.2,516.2 397.2,497.9 399.3,474.6 401.3,462.2 403.4,491.1 405.4,479.6 407.4,467.8 409.5,447.3 411.5,453.2 413.5,488.9 415.6,464.0 417.6,449.8 419.6,479.7 421.7,463.3 423.7,498.2 425.8,486.4 427.8,503.1 429.8,458.9 431.9,492.6 433.9,465.0 435.9,494.0 438.0,493.3 440.0,474.9 442.1,462.0 444.1,463.7 446.1,493.2 448.2,488.3 450.2,465.0 452.2,458.6 454.3,503.5 456.3,451.1 458.4,510.2 460.4,456.5 462.4,497.3 464.5,490.1 466.5,504.9" fill="none" stroke="none" marker-start="url(#ms)" marker-mid="url(#ms)" marker-end="url(#ms)"/><polyline points="61.1,686.0 63.2,686.0 65.2,686.0 67.2,686.0 69.3,686.0 71.3,686.0 73.4,686.0 75.4,686.0 77.4,686.0 79.5,686.0 81.5,686.0 83.5,686.0 85.6,686.0 87.6,686.0 89.7,686.0 91.7,686.0 93.7,686.0 95.8,686.0 97.8,686.0 99.8,686.0 101.9,686.0 103.9,686.0 106.0,686.0 108.0,686.0 110.0,686.0 112.1,686.0 114.1,686.0 116.1,686.0 118.2,686.0 120.2,686.0 122.2,686.0 124.3,686.0 126.3,686.0 128.4,686.0 130.4,686.0 132.4,686.0 134.5,686.0 136.5,686.0 138.5,686.0 140.6,686.0 142.6,686.0 144.7,686.0 146.7,686.0 148.7,686.0 150.8,686.0 152.8,686.0 154.8,686.0 156.9,686.0 158.9,686.0 160.9,686.0 163.0,686.0 165.0,686.0 167.1,686.0 169.1,686.0 171.1,686.0 173.2,686.0 175.2,686.0 177.2,686.0 179.3,686.0 181.3,686.0 183.4,686.0 185.4,686.0 187.4,686.0 189.5,686.0 191.5,686.0 193.5,686.0 195.6,686.0 197.6,686.0 199.7,686.0 201.7,686.0 203.7,686.0 205.8,686.0 207.8,686.0 209.8,686.0 211.9,686.0 213.9,686.0 215.9,686.0 218.0,686.0 220.0,686.0 222.1,686.0 224.1,686.0 226.1,686.0 228.2,686.0 230.2,686.0 232.2,686.0 234.3,686.0 236.3,686.0 238.4,686.0 240.4,686.0 242.4,686.0 244.5,686.0 246.5,686.0 248.5,686.0 250.6,686.0 252.6,686.0 254.7,686.0 256.7,686.0 258.7,686.0 260.8,686.0 262.8,686.0 264.8,686.0 266.9,686.0 268.9,686.0 270.9,686.0 273.0,686.0 275.0,686.0 277.1,686.0 279.1,686.0 281.1,686.0 283.2,686.0 285.2,686.0 287.2,686.0 289.3,686.0 291.3,686.0 293.4,686.0 295.4,686.0 297.4,686.0 299.5,686.0 301.5,686.0 303.5,686.0 305.6,686.0 307.6,686.0 309.7,686.0 311.7,686.0 313.7,686.0 315.8,686.0 317.8,686.0 319.8,686.0 321.9,686.0 323.9,686.0 325.9,686.0 328.0,686.0 330.0,686.0 332.1,686.0 334.1,686.0 336.1,686.0 338.2,686.0 340.2,686.0 342.2,686.0 344.3,686.0 346.3,686.0 348.4,686.0 350.4,686.0 352.4,686.0 354.5,686.0 356.5,686.0 358.5,686.0 360.6,686.0 362.6,686.0 364.6,686.0 366.7,686.0 368.7,686.0 370.8,686.0 372.8,686.0 374.8,686.0 376.9,686.0 378.9,686.0 380.9,686.0 383.0,686.0 385.0,686.0 387.1,686.0 389.1,686.0 391.1,686.0 393.2,686.0 395.2,686.0 397.2,686.0 399.3,686.0 401.3,686.0 403.4,686.0 405.4,686.0 407.4,686.0 409.5,686.0 411.5,686.0 413.5,686.0 415.6,686.0 417.6,686.0 419.6,686.0 421.7,686.0 423.7,686.0 425.8,686.0 427.8,686.0 429.8,686.0 431.9,686.0 433.9,686.0 435.9,686.0 438.0,686.0 440.0,686.0 442.1,686.0 444.1,686.0 446.1,686.0 448.2,686.0 450.2,686.0 452.2,686.0 454.3,686.0 456.3,686.0 458.4,686.0 460.4,686.0 462.4,686.0 464.5,686.0 466.5,686.0" fill="none" stroke="none" marker-start="url(#mx)" marker-mid="url(#mx)" marker-end="url(#mx)"/><line x1="59.1" x2="466.5" y1="679.2" y2="679.2" stroke="#f88" stroke-width="1"/><line x1="61" x2="466.5" y1="431.5" y2="431.5" stroke="#f88" stroke-width="1"/><text x="49.2" y="426" font-size="17.5" text-anchor="middle" >5</text><text x="46.6" y="459" font-size="17.5" text-anchor="middle" >4.5</text><text x="49" y="492.3" font-size="17.5" text-anchor="middle" >4</text><text x="44.2" y="524.8" font-size="17.5" text-anchor="middle" >3.5</text><text x="49.4" y="558" font-size="17.5" text-anchor="middle" >3</text><text x="44.4" y="590.6" font-size="17.5" text-anchor="middle" >2.5</text><text x="44" y="623.6" font-size="17.5" text-anchor="middle" >2</text><text x="44.7" y="656.5" font-size="17.5" text-anchor="middle" >1.5</text><text x="44.3" y="689.8" font-size="17.5" text-anchor="middle" >1</text><text x="44.2" y="722.3" font-size="17.5" text-anchor="middle" >0.5</text><text x="49.2" y="759.2" font-size="17.5" text-anchor="middle" >0</text><text x="58.25" y="770" font-size="17.5" text-anchor="middle" >0</text><text x="92.5" y="770" font-size="17.5" text-anchor="middle" >20</text><text x="126.25" y="770" font-size="17.5" text-anchor="middle" >40</text><text x="160" y="770" font-size="17.5" text-anchor="middle" >60</text><text x="193.75" y="770" font-size="17.5" text-anchor="middle" >80</text><text x="238.75" y="770" font-size="17.5" text-anchor="middle" >100</text><text x="279.7" y="770" font-size="17.5" text-anchor="middle" >120</text><text x="326.4" y="770" font-size="17.5" text-anchor="middle" >140</text><text x="373.8" y="770" font-size="17.5" text-anchor="middle" >160</text><text x="417.8" y="770" font-size="17.5" text-anchor="middle" >180</text><text x="461.1" y="770" font-size="17.5" text-anchor="middle" >200</text><text x="246.2" y="787.5" font-size="18" text-anchor="middle" >Test times</text><text transform="translate(30,586) rotate(-90)" font-size="18">E<tspan font-size="10.5" dy="1">bias</tspan></text><text x="230.4" y="824" font-size="26" font-weight="bold" text-anchor="middle">(c)</text><path d="M617.0 751.2v-4.2M617.0 417.3v4.2M716.1 751.2v-4.2M716.1 417.3v4.2M815.2 751.2v-4.2M815.2 417.3v4.2M518 751.2h4.2M914.2 751.2h-4.2M518 709.5h4.2M914.2 709.5h-4.2M518 667.7h4.2M914.2 667.7h-4.2M518 626.0h4.2M914.2 626.0h-4.2M518 584.2h4.2M914.2 584.2h-4.2M518 542.5h4.2M914.2 542.5h-4.2M518 500.8h4.2M914.2 500.8h-4.2M518 459.0h4.2M914.2 459.0h-4.2M518 417.3h4.2M914.2 417.3h-4.2" stroke="#777" stroke-width="1" fill="none"/><rect x="518" y="417.3" width="396.2" height="333.9" fill="none" stroke="#999" stroke-width="1"/><polyline points="520.9,680.0 522.3,681.0 525.4,617.9 527.4,606.2 528.7,634.7 531.3,639.6 533.2,624.3 535.2,602.9 536.9,633.5 538.5,613.6 541.0,643.9 541.5,711.9 543.0,612.0 545.0,633.5 546.1,704.0 547.7,579.4 549.2,644.3 551.2,598.9 553.2,676.1 555.1,627.3 557.1,633.5 559.0,656.6 561.0,588.6 562.9,701.5 563.3,630.2 564.9,652.1 566.8,668.3 568.4,640.9 570.7,654.2 572.7,643.9 577.2,586.2 578.1,697.9 580.9,617.9 582.3,689.9 582.8,632.5 584.8,677.5 586.8,610.7 587.8,697.9 590.7,650.1 592.6,569.6 594.6,632.5 596.5,598.0 598.5,651.7 599.0,697.5 600.4,568.3 603.0,627.7 604.4,712.0 604.9,576.5 606.6,552.0 610.8,656.6 612.7,624.3 614.3,639.4 618.6,614.6 620.1,638.6 622.5,628.2 624.4,642.9 626.0,596.0 628.0,656.6 629.1,690.3 632.8,609.7 634.8,634.5 636.8,606.8 638.1,688.2 639.2,701.6 642.4,615.9 644.6,630.8 646.3,637.6 649.8,667.7 654.3,621.8 655.7,588.2 658.0,655.0 660.6,639.0 664.9,603.8 666.4,613.2 668.4,660.9 670.3,610.7 674.0,715.7 674.2,657.5 675.8,617.5 677.8,679.0 679.7,616.5 681.7,597.0 683.6,587.2 685.6,612.0 688.3,639.0 690.5,626.3 691.8,602.9 694.2,694.1 694.4,586.2 694.6,710.8 695.7,598.0 698.1,647.8 700.0,682.9 702.0,625.3 703.5,580.4 705.9,686.8 707.5,600.9 708.3,715.5 709.8,627.3 712.9,606.8 716.2,635.5 717.2,680.0 718.3,636.6 719.9,679.0 721.9,667.9 725.8,574.5 727.7,652.7 729.7,673.2 731.6,617.1 733.6,607.7 735.5,602.3 737.5,638.0 739.0,570.2 741.4,573.0 743.3,586.2 746.9,599.9 746.9,698.9 749.8,648.8 751.7,677.5 753.4,713.9 753.5,640.4 755.1,632.1 759.4,593.1 761.3,613.6 762.9,656.0 765.2,677.1 767.2,627.7 769.1,617.5 773.6,636.1 775.6,615.9 777.5,682.0 779.5,660.9 782.0,608.7 783.8,604.8 785.3,647.8 787.3,597.0 789.2,666.3 791.2,620.4 795.1,619.1 796.5,710.3 799.0,688.8 801.9,647.8 802.4,701.5 803.3,583.9 805.5,629.2 807.4,672.2 809.4,609.7 811.3,641.3 813.1,663.4 815.0,650.7 815.2,688.7 817.0,615.9 818.9,678.0 821.1,597.0 823.0,609.7 824.8,590.2 826.7,600.3 828.9,617.9 831.2,655.6 832.8,623.8 837.1,578.4 841.0,625.7 844.9,609.7 846.9,641.9 854.3,681.0 856.2,663.4 857.5,711.9 859.2,613.6 860.9,681.0 861.1,691.8 862.7,547.2 864.5,714.3 864.8,669.3 866.8,631.2 868.9,600.3 872.2,572.6 875.8,620.4 878.1,683.5 880.1,625.7 884.0,600.3 886.9,646.8 888.9,591.1 892.8,600.3 894.7,620.4 896.7,628.2 898.6,650.7 900.0,634.1 901.3,693.9 902.1,600.9 904.1,662.4 906.4,619.5 908.0,605.4 909.3,712.1 909.7,702.6 909.9,628.8 911.9,623.4 912.9,688.7 913.3,679.0 913.7,710.1 913.8,695.1" fill="none" stroke="none" marker-start="url(#md)" marker-mid="url(#md)" marker-end="url(#md)"/><polyline points="520.0,718.5 522.0,713.5 523.9,715.7 525.9,706.1 527.9,716.3 529.9,717.0 531.9,712.1 533.8,710.0 535.8,711.2 537.8,726.4 539.8,716.6 541.8,716.4 543.8,718.1 545.7,716.3 547.7,713.2 549.7,717.6 551.7,706.1 553.7,712.6 555.6,718.3 557.6,710.3 559.6,722.3 561.6,713.8 563.6,708.5 565.5,717.6 567.5,716.3 569.5,714.8 571.5,709.5 573.5,720.4 575.4,707.4 577.4,708.2 579.4,715.0 581.4,715.6 583.4,715.4 585.4,720.8 587.3,719.1 589.3,724.8 591.3,715.2 593.3,719.0 595.3,717.5 597.2,715.4 599.2,713.8 601.2,715.0 603.2,720.1 605.2,723.1 607.1,719.1 609.1,719.6 611.1,712.6 613.1,714.7 615.1,721.9 617.0,711.5 619.0,706.1 621.0,708.8 623.0,723.0 625.0,707.9 627.0,716.7 628.9,719.1 630.9,718.1 632.9,711.0 634.9,723.1 636.9,713.5 638.8,715.7 640.8,720.1 642.8,719.3 644.8,720.6 646.8,726.4 648.7,722.6 650.7,703.2 652.7,710.2 654.7,723.1 656.7,714.4 658.7,727.6 660.6,719.7 662.6,714.2 664.6,722.6 666.6,711.9 668.6,721.4 670.5,718.9 672.5,716.6 674.5,710.6 676.5,716.8 678.5,710.0 680.4,707.0 682.4,710.7 684.4,721.4 686.4,716.4 688.4,730.1 690.3,713.1 692.3,719.4 694.3,719.6 696.3,716.3 698.3,718.4 700.3,712.7 702.2,723.3 704.2,712.9 706.2,713.2 708.2,721.4 710.2,719.4 712.1,712.9 714.1,715.8 716.1,711.8 718.1,714.8 720.1,719.4 722.0,716.6 724.0,718.4 726.0,715.2 728.0,708.4 730.0,717.9 731.9,706.8 733.9,718.6 735.9,719.6 737.9,723.5 739.9,713.3 741.9,710.7 743.8,724.7 745.8,711.2 747.8,724.2 749.8,719.3 751.8,718.5 753.7,721.3 755.7,714.2 757.7,713.3 759.7,708.4 761.7,713.3 763.6,721.2 765.6,718.8 767.6,718.2 769.6,721.7 771.6,709.8 773.5,706.5 775.5,723.3 777.5,719.8 779.5,713.1 781.5,716.6 783.5,717.6 785.4,712.7 787.4,710.9 789.4,718.4 791.4,712.8 793.4,714.9 795.3,721.6 797.3,716.5 799.3,713.5 801.3,719.1 803.3,716.7 805.2,716.5 807.2,710.7 809.2,716.6 811.2,715.8 813.2,730.3 815.2,713.6 817.1,718.7 819.1,712.1 821.1,717.6 823.1,710.4 825.1,711.4 827.0,714.1 829.0,720.4 831.0,723.1 833.0,718.8 835.0,708.2 836.9,728.3 838.9,708.5 840.9,721.1 842.9,716.8 844.9,710.3 846.8,713.2 848.8,707.2 850.8,720.9 852.8,725.7 854.8,725.0 856.8,722.1 858.7,725.9 860.7,722.8 862.7,712.9 864.7,711.0 866.7,716.1 868.6,719.4 870.6,705.6 872.6,719.7 874.6,724.3 876.6,716.5 878.5,719.7 880.5,712.5 882.5,708.2 884.5,719.4 886.5,730.3 888.4,728.2 890.4,710.0 892.4,709.0 894.4,718.3 896.4,717.5 898.4,712.3 900.3,711.1 902.3,715.7 904.3,703.2 906.3,715.5 908.3,705.6 910.2,721.2 912.2,721.8 914.2,717.5" fill="none" stroke="none" marker-start="url(#mp)" marker-mid="url(#mp)" marker-end="url(#mp)"/><polyline points="520.0,718.1 522.0,729.7 523.9,728.8 525.9,717.5 527.9,722.8 529.9,722.7 531.9,724.4 533.8,719.6 535.8,721.7 537.8,725.3 539.8,725.3 541.8,722.0 543.8,724.2 545.7,725.8 547.7,721.3 549.7,726.6 551.7,727.5 553.7,725.8 555.6,723.5 557.6,728.0 559.6,723.8 561.6,722.9 563.6,723.3 565.5,727.0 567.5,722.9 569.5,721.8 571.5,720.9 573.5,730.3 575.4,718.4 577.4,727.1 579.4,719.7 581.4,722.2 583.4,724.6 585.4,723.5 587.3,725.9 589.3,719.3 591.3,726.6 593.3,721.5 595.3,723.2 597.2,716.9 599.2,719.9 601.2,722.0 603.2,724.9 605.2,719.3 607.1,725.0 609.1,720.1 611.1,722.2 613.1,726.0 615.1,715.7 617.0,725.1 619.0,723.6 621.0,720.9 623.0,724.4 625.0,726.2 627.0,730.1 628.9,721.5 630.9,722.4 632.9,724.2 634.9,720.2 636.9,717.7 638.8,726.8 640.8,719.2 642.8,723.0 644.8,723.5 646.8,728.1 648.7,726.4 650.7,718.2 652.7,722.4 654.7,728.1 656.7,722.0 658.7,723.0 660.6,722.0 662.6,720.6 664.6,723.6 666.6,723.4 668.6,726.4 670.5,721.7 672.5,718.8 674.5,725.7 676.5,723.5 678.5,722.1 680.4,724.3 682.4,720.6 684.4,726.5 686.4,721.5 688.4,719.7 690.3,718.8 692.3,719.4 694.3,727.4 696.3,729.5 698.3,724.0 700.3,722.9 702.2,722.9 704.2,725.1 706.2,722.6 708.2,722.3 710.2,724.5 712.1,720.3 714.1,725.0 716.1,724.3 718.1,721.0 720.1,728.0 722.0,724.2 724.0,723.7 726.0,721.4 728.0,728.5 730.0,727.1 731.9,720.7 733.9,730.3 735.9,730.1 737.9,723.8 739.9,725.8 741.9,725.6 743.8,723.5 745.8,722.1 747.8,722.8 749.8,720.2 751.8,717.9 753.7,722.0 755.7,724.6 757.7,721.6 759.7,719.4 761.7,725.3 763.6,721.2 765.6,727.2 767.6,719.4 769.6,721.6 771.6,726.7 773.5,725.3 775.5,725.0 777.5,720.8 779.5,725.7 781.5,724.4 783.5,716.2 785.4,721.3 787.4,722.7 789.4,721.2 791.4,722.4 793.4,720.8 795.3,727.7 797.3,722.3 799.3,715.7 801.3,723.9 803.3,720.9 805.2,718.9 807.2,722.9 809.2,725.6 811.2,720.8 813.2,727.8 815.2,715.7 817.1,719.2 819.1,724.5 821.1,722.2 823.1,722.4 825.1,722.5 827.0,722.5 829.0,715.7 831.0,727.3 833.0,720.9 835.0,724.4 836.9,726.0 838.9,721.7 840.9,724.4 842.9,725.0 844.9,724.9 846.8,725.0 848.8,720.8 850.8,722.1 852.8,720.5 854.8,721.7 856.8,727.1 858.7,730.3 860.7,719.8 862.7,725.9 864.7,718.6 866.7,727.6 868.6,717.9 870.6,722.5 872.6,719.9 874.6,728.5 876.6,719.8 878.5,725.2 880.5,721.9 882.5,718.2 884.5,729.7 886.5,719.5 888.4,727.9 890.4,722.9 892.4,720.4 894.4,723.6 896.4,726.1 898.4,720.7 900.3,723.8 902.3,721.9 904.3,720.6 906.3,722.2 908.3,722.2 910.2,720.8 912.2,730.3 914.2,723.3" fill="none" stroke="none" marker-start="url(#mt)" marker-mid="url(#mt)" marker-end="url(#mt)"/><polyline points="520.0,698.9 522.0,703.9 523.9,697.7 525.9,702.1 527.9,700.2 529.9,701.4 531.9,705.9 533.8,702.7 535.8,697.8 537.8,696.4 539.8,699.8 541.8,697.3 543.8,703.0 545.7,695.2 547.7,695.2 549.7,701.2 551.7,698.1 553.7,697.1 555.6,694.0 557.6,693.8 559.6,700.3 561.6,700.7 563.6,691.0 565.5,698.3 567.5,711.3 569.5,703.2 571.5,698.0 573.5,701.0 575.4,697.3 577.4,693.5 579.4,702.3 581.4,702.7 583.4,707.9 585.4,696.1 587.3,697.0 589.3,699.0 591.3,689.0 593.3,707.5 595.3,705.6 597.2,702.2 599.2,690.6 601.2,691.3 603.2,704.2 605.2,699.8 607.1,693.7 609.1,701.5 611.1,695.5 613.1,701.2 615.1,699.9 617.0,690.3 619.0,696.4 621.0,692.6 623.0,707.9 625.0,699.2 627.0,709.5 628.9,694.2 630.9,690.5 632.9,694.8 634.9,704.4 636.9,696.9 638.8,695.2 640.8,697.1 642.8,703.0 644.8,692.8 646.8,706.0 648.7,696.3 650.7,705.6 652.7,703.2 654.7,700.1 656.7,693.1 658.7,697.9 660.6,694.5 662.6,697.4 664.6,703.5 666.6,706.8 668.6,701.1 670.5,700.5 672.5,695.1 674.5,693.6 676.5,694.5 678.5,692.4 680.4,696.2 682.4,694.3 684.4,704.7 686.4,693.5 688.4,699.6 690.3,696.3 692.3,694.8 694.3,698.8 696.3,699.0 698.3,696.3 700.3,691.5 702.2,701.6 704.2,694.9 706.2,695.5 708.2,696.1 710.2,699.3 712.1,691.4 714.1,706.5 716.1,700.9 718.1,696.0 720.1,694.9 722.0,706.9 724.0,695.8 726.0,691.2 728.0,701.0 730.0,699.6 731.9,704.2 733.9,701.9 735.9,706.5 737.9,686.7 739.9,697.2 741.9,691.8 743.8,697.3 745.8,695.1 747.8,699.0 749.8,702.7 751.8,699.3 753.7,705.1 755.7,691.3 757.7,694.3 759.7,696.2 761.7,706.2 763.6,697.3 765.6,700.4 767.6,695.8 769.6,700.4 771.6,693.7 773.5,691.5 775.5,692.2 777.5,692.4 779.5,695.6 781.5,688.4 783.5,695.9 785.4,695.8 787.4,695.1 789.4,703.5 791.4,693.2 793.4,694.8 795.3,707.2 797.3,703.9 799.3,696.9 801.3,701.1 803.3,693.6 805.2,697.8 807.2,698.3 809.2,696.8 811.2,695.8 813.2,693.5 815.2,695.2 817.1,686.5 819.1,702.9 821.1,693.4 823.1,701.7 825.1,693.6 827.0,701.5 829.0,695.9 831.0,696.5 833.0,690.1 835.0,701.4 836.9,711.5 838.9,702.8 840.9,706.4 842.9,686.5 844.9,693.4 846.8,699.3 848.8,707.1 850.8,694.6 852.8,694.2 854.8,701.0 856.8,694.0 858.7,696.7 860.7,703.5 862.7,703.0 864.7,693.5 866.7,693.9 868.6,700.8 870.6,696.8 872.6,700.3 874.6,689.4 876.6,697.0 878.5,706.4 880.5,695.4 882.5,695.4 884.5,696.9 886.5,701.9 888.4,701.7 890.4,704.8 892.4,703.4 894.4,704.2 896.4,693.2 898.4,702.8 900.3,695.8 902.3,698.0 904.3,692.6 906.3,696.3 908.3,706.3 910.2,700.5 912.2,698.5 914.2,695.1" fill="none" stroke="none" marker-start="url(#ma)" marker-mid="url(#ma)" marker-end="url(#ma)"/><polyline points="520.0,716.0 522.0,713.8 523.9,712.1 525.9,713.8 527.9,714.6 529.9,717.6 531.9,714.9 533.8,711.4 535.8,712.9 537.8,712.7 539.8,715.5 541.8,710.3 543.8,715.9 545.7,714.1 547.7,713.8 549.7,714.9 551.7,713.3 553.7,710.1 555.6,711.5 557.6,711.4 559.6,712.7 561.6,714.0 563.6,715.9 565.5,711.2 567.5,714.9 569.5,712.7 571.5,714.4 573.5,712.5 575.4,715.9 577.4,710.0 579.4,711.5 581.4,716.8 583.4,713.7 585.4,717.8 587.3,714.6 589.3,713.9 591.3,714.3 593.3,713.5 595.3,713.2 597.2,712.5 599.2,710.4 601.2,712.8 603.2,713.3 605.2,713.2 607.1,713.0 609.1,715.1 611.1,711.4 613.1,716.7 615.1,714.3 617.0,717.8 619.0,711.2 621.0,714.6 623.0,714.8 625.0,714.4 627.0,711.5 628.9,716.4 630.9,714.1 632.9,713.0 634.9,715.5 636.9,714.3 638.8,714.9 640.8,712.1 642.8,713.8 644.8,713.6 646.8,713.0 648.7,713.5 650.7,713.9 652.7,712.0 654.7,712.2 656.7,715.1 658.7,711.6 660.6,711.3 662.6,711.7 664.6,714.0 666.6,713.7 668.6,711.3 670.5,712.7 672.5,712.2 674.5,714.2 676.5,716.6 678.5,714.0 680.4,716.7 682.4,710.4 684.4,713.9 686.4,711.5 688.4,713.5 690.3,715.9 692.3,713.0 694.3,712.0 696.3,713.2 698.3,716.4 700.3,714.1 702.2,710.7 704.2,715.0 706.2,713.1 708.2,713.5 710.2,714.6 712.1,711.3 714.1,715.0 716.1,711.2 718.1,715.0 720.1,715.0 722.0,714.2 724.0,712.7 726.0,715.3 728.0,713.7 730.0,710.8 731.9,715.5 733.9,711.8 735.9,714.2 737.9,717.0 739.9,711.5 741.9,714.2 743.8,713.7 745.8,716.1 747.8,713.9 749.8,716.3 751.8,715.3 753.7,714.5 755.7,714.5 757.7,713.9 759.7,715.4 761.7,710.7 763.6,712.4 765.6,715.1 767.6,713.4 769.6,712.6 771.6,713.6 773.5,711.3 775.5,712.9 777.5,711.8 779.5,712.1 781.5,712.2 783.5,715.8 785.4,711.5 787.4,716.1 789.4,713.7 791.4,716.5 793.4,711.4 795.3,713.8 797.3,714.1 799.3,716.3 801.3,714.1 803.3,713.3 805.2,717.2 807.2,716.8 809.2,717.6 811.2,710.4 813.2,714.0 815.2,711.0 817.1,714.9 819.1,714.6 821.1,711.4 823.1,713.8 825.1,714.3 827.0,711.1 829.0,709.9 831.0,712.4 833.0,713.8 835.0,714.6 836.9,713.3 838.9,714.8 840.9,715.1 842.9,711.6 844.9,710.1 846.8,709.7 848.8,712.8 850.8,711.6 852.8,713.8 854.8,712.8 856.8,716.3 858.7,711.6 860.7,711.7 862.7,712.6 864.7,714.1 866.7,714.4 868.6,711.9 870.6,712.5 872.6,708.0 874.6,714.4 876.6,712.1 878.5,709.5 880.5,712.3 882.5,716.9 884.5,715.1 886.5,713.4 888.4,716.5 890.4,713.3 892.4,712.2 894.4,711.9 896.4,713.4 898.4,715.3 900.3,714.2 902.3,715.0 904.3,714.9 906.3,710.6 908.3,717.8 910.2,713.5 912.2,711.9 914.2,714.3" fill="none" stroke="none" marker-start="url(#mc)" marker-mid="url(#mc)" marker-end="url(#mc)"/><polyline points="520.0,478.3 522.0,527.5 523.9,554.9 525.9,529.6 527.9,569.6 529.9,580.1 531.9,570.8 533.8,535.7 535.8,481.1 537.8,505.6 539.8,530.0 541.8,511.5 543.8,521.9 545.7,521.8 547.7,516.8 549.7,504.2 551.7,524.1 553.7,444.6 555.6,568.4 557.6,528.0 559.6,733.5 561.6,543.7 563.6,570.4 565.5,470.4 567.5,476.8 569.5,466.3 571.5,562.4 573.5,563.6 575.4,519.7 577.4,563.1 579.4,529.3 581.4,534.6 583.4,550.5 585.4,530.5 587.3,465.1 589.3,536.2 591.3,464.3 593.3,498.0 595.3,490.3 597.2,540.4 599.2,520.1 601.2,517.8 603.2,475.1 605.2,606.7 607.1,733.5 609.1,473.5 611.1,555.9 613.1,545.9 615.1,479.9 617.0,481.9 619.0,512.9 621.0,467.8 623.0,522.4 625.0,544.7 627.0,498.0 628.9,475.2 630.9,543.2 632.9,542.0 634.9,493.9 636.9,488.5 638.8,542.9 640.8,496.2 642.8,452.8 644.8,532.0 646.8,556.4 648.7,530.3 650.7,496.9 652.7,584.1 654.7,465.5 656.7,520.4 658.7,501.1 660.6,581.8 662.6,733.5 664.6,558.3 666.6,464.4 668.6,517.2 670.5,512.6 672.5,505.2 674.5,514.1 676.5,733.5 678.5,455.0 680.4,507.9 682.4,510.8 684.4,569.8 686.4,502.0 688.4,505.1 690.3,433.6 692.3,553.3 694.3,733.5 696.3,539.4 698.3,504.9 700.3,540.0 702.2,514.5 704.2,512.8 706.2,511.9 708.2,515.1 710.2,542.1 712.1,502.2 714.1,504.4 716.1,471.8 718.1,509.7 720.1,490.3 722.0,513.3 724.0,537.3 726.0,481.8 728.0,474.7 730.0,495.7 731.9,549.5 733.9,526.3 735.9,488.0 737.9,551.2 739.9,551.6 741.9,520.7 743.8,509.6 745.8,552.7 747.8,577.4 749.8,546.4 751.8,563.3 753.7,467.4 755.7,579.6 757.7,733.5 759.7,549.4 761.7,551.1 763.6,488.9 765.6,442.9 767.6,512.6 769.6,607.5 771.6,443.7 773.5,529.8 775.5,542.8 777.5,505.5 779.5,579.6 781.5,733.5 783.5,500.9 785.4,513.8 787.4,574.8 789.4,494.6 791.4,496.8 793.4,474.9 795.3,516.5 797.3,511.0 799.3,569.5 801.3,506.1 803.3,547.5 805.2,515.2 807.2,555.5 809.2,428.9 811.2,553.1 813.2,477.2 815.2,470.5 817.1,449.3 819.1,532.3 821.1,494.2 823.1,483.2 825.1,450.8 827.0,527.6 829.0,537.3 831.0,514.7 833.0,493.3 835.0,542.2 836.9,512.3 838.9,476.4 840.9,505.0 842.9,508.5 844.9,515.3 846.8,498.7 848.8,512.5 850.8,551.0 852.8,481.5 854.8,522.8 856.8,563.8 858.7,527.4 860.7,502.9 862.7,543.9 864.7,512.7 866.7,547.6 868.6,592.6 870.6,583.9 872.6,530.6 874.6,733.5 876.6,501.9 878.5,495.7 880.5,516.2 882.5,530.7 884.5,733.5 886.5,621.6 888.4,492.5 890.4,524.0 892.4,522.3 894.4,538.6 896.4,479.9 898.4,492.1 900.3,525.8 902.3,461.1 904.3,534.3 906.3,495.0 908.3,488.7 910.2,532.8 912.2,545.2 914.2,493.7" fill="none" stroke="none" marker-start="url(#ms)" marker-mid="url(#ms)" marker-end="url(#ms)"/><polyline points="520.0,732.4 522.0,732.4 523.9,732.4 525.9,732.4 527.9,732.4 529.9,732.4 531.9,732.4 533.8,732.4 535.8,732.4 537.8,732.4 539.8,732.4 541.8,732.4 543.8,732.4 545.7,732.4 547.7,732.4 549.7,732.4 551.7,732.4 553.7,732.4 555.6,732.4 557.6,732.4 559.6,732.4 561.6,732.4 563.6,732.4 565.5,732.4 567.5,732.4 569.5,732.4 571.5,732.4 573.5,732.4 575.4,732.4 577.4,732.4 579.4,732.4 581.4,732.4 583.4,732.4 585.4,732.4 587.3,732.4 589.3,732.4 591.3,732.4 593.3,732.4 595.3,732.4 597.2,732.4 599.2,732.4 601.2,732.4 603.2,732.4 605.2,732.4 607.1,732.4 609.1,732.4 611.1,732.4 613.1,732.4 615.1,732.4 617.0,732.4 619.0,732.4 621.0,732.4 623.0,732.4 625.0,732.4 627.0,732.4 628.9,732.4 630.9,732.4 632.9,732.4 634.9,732.4 636.9,732.4 638.8,732.4 640.8,732.4 642.8,732.4 644.8,732.4 646.8,732.4 648.7,732.4 650.7,732.4 652.7,732.4 654.7,732.4 656.7,732.4 658.7,732.4 660.6,732.4 662.6,732.4 664.6,732.4 666.6,732.4 668.6,732.4 670.5,732.4 672.5,732.4 674.5,732.4 676.5,732.4 678.5,732.4 680.4,732.4 682.4,732.4 684.4,732.4 686.4,732.4 688.4,732.4 690.3,732.4 692.3,732.4 694.3,732.4 696.3,732.4 698.3,732.4 700.3,732.4 702.2,732.4 704.2,732.4 706.2,732.4 708.2,732.4 710.2,732.4 712.1,732.4 714.1,732.4 716.1,732.4 718.1,732.4 720.1,732.4 722.0,732.4 724.0,732.4 726.0,732.4 728.0,732.4 730.0,732.4 731.9,732.4 733.9,732.4 735.9,732.4 737.9,732.4 739.9,732.4 741.9,732.4 743.8,732.4 745.8,732.4 747.8,732.4 749.8,732.4 751.8,732.4 753.7,732.4 755.7,732.4 757.7,732.4 759.7,732.4 761.7,732.4 763.6,732.4 765.6,732.4 767.6,732.4 769.6,732.4 771.6,732.4 773.5,732.4 775.5,732.4 777.5,732.4 779.5,732.4 781.5,732.4 783.5,732.4 785.4,732.4 787.4,732.4 789.4,732.4 791.4,732.4 793.4,732.4 795.3,732.4 797.3,732.4 799.3,732.4 801.3,732.4 803.3,732.4 805.2,732.4 807.2,732.4 809.2,732.4 811.2,732.4 813.2,732.4 815.2,732.4 817.1,732.4 819.1,732.4 821.1,732.4 823.1,732.4 825.1,732.4 827.0,732.4 829.0,732.4 831.0,732.4 833.0,732.4 835.0,732.4 836.9,732.4 838.9,732.4 840.9,732.4 842.9,732.4 844.9,732.4 846.8,732.4 848.8,732.4 850.8,732.4 852.8,732.4 854.8,732.4 856.8,732.4 858.7,732.4 860.7,732.4 862.7,732.4 864.7,732.4 866.7,732.4 868.6,732.4 870.6,732.4 872.6,732.4 874.6,732.4 876.6,732.4 878.5,732.4 880.5,732.4 882.5,732.4 884.5,732.4 886.5,732.4 888.4,732.4 890.4,732.4 892.4,732.4 894.4,732.4 896.4,732.4 898.4,732.4 900.3,732.4 902.3,732.4 904.3,732.4 906.3,732.4 908.3,732.4 910.2,732.4 912.2,732.4 914.2,732.4" fill="none" stroke="none" marker-start="url(#mx)" marker-mid="url(#mx)" marker-end="url(#mx)"/><line x1="518" x2="914.2" y1="688.0" y2="688.0" stroke="#fcc" stroke-width="1"/><text x="505.2" y="426" font-size="17.5" text-anchor="middle" >1.6</text><text x="504.8" y="467" font-size="17.5" text-anchor="middle" >1.4</text><text x="504.8" y="508" font-size="17.5" text-anchor="middle" >1.2</text><text x="504.6" y="549" font-size="17.5" text-anchor="middle" >1</text><text x="504.5" y="590" font-size="17.5" text-anchor="middle" >0.8</text><text x="504.5" y="631" font-size="17.5" text-anchor="middle" >0.6</text><text x="504.5" y="672" font-size="17.5" text-anchor="middle" >0.4</text><text x="504.5" y="712" font-size="17.5" text-anchor="middle" >0.2</text><text x="510" y="752.6" font-size="17.5" text-anchor="middle" >0</text><text x="517.5" y="770" font-size="17.5" text-anchor="middle" >0</text><text x="551.75" y="770" font-size="17.5" text-anchor="middle" >20</text><text x="585" y="770" font-size="17.5" text-anchor="middle" >40</text><text x="619.25" y="770" font-size="17.5" text-anchor="middle" >60</text><text x="653.25" y="770" font-size="17.5" text-anchor="middle" >80</text><text x="694.6" y="770" font-size="17.5" text-anchor="middle" >100</text><text x="739" y="770" font-size="17.5" text-anchor="middle" >120</text><text x="785.3" y="770" font-size="17.5" text-anchor="middle" >140</text><text x="832.7" y="770" font-size="17.5" text-anchor="middle" >160</text><text x="876.7" y="770" font-size="17.5" text-anchor="middle" >180</text><text x="919.6" y="770" font-size="17.5" text-anchor="middle" >200</text><text x="731.1" y="787" font-size="18" text-anchor="middle" >Test times</text><text transform="translate(486,587.5) rotate(-90)" font-size="18">T<tspan font-size="10.5" dy="1">av</tspan></text><text x="749.1" y="824" font-size="26" font-weight="bold" text-anchor="middle">(d)</text><rect x="919.6" y="420.3" width="87.2" height="313.5" fill="#fff" stroke="#aaa" stroke-width="1.2"/><use href="#sd" x="950.5" y="443.8"/><use href="#sp" x="950.5" y="481.7"/><use href="#st" x="950.5" y="519.5"/><use href="#sa" x="950.5" y="558.4"/><use href="#sc" x="950.5" y="595"/><use href="#ss" x="950.5" y="633.4"/><use href="#sx" x="950.5" y="671.6"/><line x1="928.2" x2="973" y1="709.5" y2="709.5" stroke="#f44" stroke-width="1"/><text x="959.5" y="465.7" font-size="14.3" text-anchor="middle" >harmonics</text><text x="954.3" y="500.6" font-size="14.3" text-anchor="middle" >sag</text><text x="956.6" y="537.8" font-size="14.3" text-anchor="middle" >swell</text><text x="961" y="575.3" font-size="14.3" text-anchor="middle" >interruption</text><text x="957.8" y="611.9" font-size="14.3" text-anchor="middle" >impulsive</text><text x="959.5" y="652.1" font-size="14.3" text-anchor="middle" >oscillation</text><text x="959.9" y="687.6" font-size="14.3" text-anchor="middle" >fluctuation</text><text x="958.2" y="726.4" font-size="14.3" text-anchor="middle" >Threshold</text><path d="M157.4 1168.2v-4.2M157.4 837.3v4.2M259.4 1168.2v-4.2M259.4 837.3v4.2M361.3 1168.2v-4.2M361.3 837.3v4.2M55.4 1168.2h4.2M463.3 1168.2h-4.2M55.4 1126.8h4.2M463.3 1126.8h-4.2M55.4 1085.5h4.2M463.3 1085.5h-4.2M55.4 1044.1h4.2M463.3 1044.1h-4.2M55.4 1002.8h4.2M463.3 1002.8h-4.2M55.4 961.4h4.2M463.3 961.4h-4.2M55.4 920.0h4.2M463.3 920.0h-4.2M55.4 878.7h4.2M463.3 878.7h-4.2M55.4 837.3h4.2M463.3 837.3h-4.2" stroke="#777" stroke-width="1" fill="none"/><rect x="55.4" y="837.3" width="407.9" height="330.9" fill="none" stroke="#999" stroke-width="1"/><polyline points="59.0,1140.1 61.4,1109.6 63.4,1132.4 65.0,1121.0 67.4,1153.7 69.0,1157.1 71.4,1141.1 73.4,1118.4 75.0,1147.7 77.4,1129.0 79.0,1159.7 80.6,1134.4 83.0,1149.7 86.0,1105.4 88.0,1160.1 90.0,1126.0 91.4,1141.7 94.0,1127.6 96.0,1141.1 98.0,1156.1 100.0,1105.4 102.6,1149.7 104.0,1159.1 106.7,1148.1 110.1,1157.1 111.5,1155.1 114.7,1121.6 119.1,1124.4 120.7,1129.0 123.1,1151.1 124.7,1141.1 127.1,1132.0 128.7,1122.0 131.1,1158.7 132.1,1087.6 134.7,1142.5 136.7,1115.4 138.7,1159.7 140.7,1103.0 143.5,1150.1 145.5,1109.4 147.1,1086.2 149.1,1118.6 150.7,1156.1 152.7,1135.6 155.1,1154.1 155.9,1101.1 157.5,1140.1 158.7,1137.0 161.1,1150.1 163.1,1129.6 164.7,1162.1 167.1,1118.0 168.7,1154.5 171.1,1110.0 173.7,1131.0 175.7,1139.6 177.5,1123.0 179.5,1133.0 181.5,1117.0 183.7,1136.4 185.5,1154.5 188.1,1140.5 189.5,1126.0 191.7,1149.7 193.1,1106.0 195.7,1134.4 197.5,1108.0 199.5,1141.7 202.7,1148.5 204.6,1100.5 206.8,1130.6 208.6,1114.4 210.2,1154.1 212.2,1136.4 214.8,1116.4 216.2,1156.1 218.2,1123.6 220.2,1141.1 222.8,1128.0 224.2,1113.0 226.2,1109.0 227.2,1133.0 231.2,1144.5 233.2,1135.0 234.8,1120.0 236.2,1114.0 238.8,1126.0 240.8,1163.7 242.8,1135.6 244.8,1146.5 247.2,1110.0 249.6,1134.4 250.8,1115.0 252.8,1128.0 254.8,1115.0 257.2,1122.0 258.8,1148.5 261.6,1105.9 262.0,1151.1 264.0,1141.1 265.0,1148.1 267.4,1108.0 271.2,1103.2 271.4,1156.1 272.0,1144.5 274.0,1140.1 277.4,1130.0 279.0,1113.0 281.0,1151.1 285.0,1106.0 287.0,1115.0 288.9,1099.5 290.0,1115.0 292.0,1122.4 294.0,1160.1 296.0,1140.5 298.0,1156.1 300.0,1151.1 302.0,1132.4 304.0,1112.4 305.4,1138.0 307.0,1154.1 309.3,1098.0 310.7,1141.7 312.1,1128.0 313.5,1136.4 316.1,1115.6 317.0,1103.8 318.7,1142.5 321.1,1128.0 323.1,1136.0 325.1,1155.1 327.1,1120.0 328.7,1131.0 330.7,1152.5 333.1,1108.4 334.7,1151.1 336.7,1133.6 340.7,1138.0 342.7,1116.6 344.7,1133.6 347.1,1149.1 349.1,1114.0 352.1,1144.1 353.1,1145.7 355.5,1121.0 357.1,1159.1 359.1,1151.1 361.1,1162.5 362.7,1138.4 365.5,1141.1 366.0,1104.1 366.7,1119.0 369.5,1134.4 371.1,1111.0 373.5,1124.4 378.1,1158.1 380.1,1132.4 381.7,1124.0 384.1,1107.6 388.1,1145.7 389.5,1117.0 391.1,1132.4 394.1,1153.1 396.1,1116.4 397.5,1127.0 399.1,1129.6 400.4,1100.1 402.1,1138.4 403.5,1152.5 406.7,1133.0 408.1,1141.1 410.2,1074.7 411.0,1099.8 412.8,1148.1 414.2,1152.5 415.8,1126.0 418.2,1119.6 420.2,1105.0 422.8,1112.0 424.2,1141.7 426.8,1135.0 428.8,1132.4 432.2,1118.4 435.2,1162.5 437.1,1101.6 437.2,1115.0 438.8,1109.0 441.6,1106.0 442.8,1137.0 445.2,1147.1 447.2,1159.1 449.2,1150.1 450.8,1128.4 453.2,1153.7 454.8,1142.5 457.2,1132.0 458.8,1151.1 459.2,1131.0" fill="none" stroke="none" marker-start="url(#md)" marker-mid="url(#md)" marker-end="url(#md)"/><polyline points="58.6,1064.1 59.0,1051.5 62.0,1097.4 62.0,1068.7 62.1,923.3 63.0,1037.1 66.0,1033.1 66.2,1093.4 66.5,1095.6 69.0,982.5 71.0,970.0 77.4,1009.5 81.0,981.5 83.0,927.4 84.3,1093.2 85.7,1091.4 86.0,1076.8 86.7,1094.5 88.0,1022.5 90.0,980.5 94.0,979.5 96.0,1040.7 96.9,919.9 99.7,1092.7 100.6,954.0 102.4,1043.1 103.3,915.2 103.6,962.0 105.1,1083.2 113.9,1092.4 119.1,1073.1 119.4,923.0 119.4,1093.5 120.1,1097.4 122.7,1057.7 126.1,1090.2 128.5,975.1 130.1,1068.7 131.0,912.5 132.1,942.0 133.0,1097.1 134.7,1045.7 136.5,984.5 142.5,1094.9 143.1,999.1 144.9,919.8 145.1,982.1 147.5,1045.7 149.1,1019.1 151.1,944.6 155.4,1097.2 155.7,954.0 159.1,1096.2 163.1,1039.5 164.7,1006.7 166.5,1069.5 169.1,992.1 175.1,1048.7 175.7,966.0 176.2,916.8 180.7,1044.1 181.3,910.6 181.5,1073.5 182.0,915.9 184.7,1001.7 185.5,949.4 190.5,1022.1 193.4,1097.7 193.5,977.1 203.6,1091.9 204.1,990.1 206.2,1008.7 208.2,967.6 210.2,1077.6 214.6,1072.1 216.8,923.6 218.6,958.0 222.0,1095.9 230.8,973.0 232.5,907.7 232.8,1037.5 234.8,1020.7 236.8,1010.5 237.5,1098.2 238.7,911.7 241.2,936.0 243.2,946.6 246.8,1015.5 248.2,1074.1 250.2,936.0 252.8,1008.5 254.8,1020.7 257.2,1028.7 263.4,1014.1 266.3,1092.4 267.5,1092.5 268.4,908.6 269.4,1004.5 272.2,1095.2 272.8,1097.8 273.4,977.5 275.4,1024.5 279.0,1009.5 280.5,1100.3 282.0,1040.7 283.4,967.6 283.5,1095.1 285.4,1061.1 287.0,946.0 290.0,1077.6 290.4,1099.9 292.0,1041.5 294.4,1096.0 298.4,1094.4 298.6,1080.8 300.0,1048.1 301.1,1093.8 305.6,1007.1 307.0,1023.5 310.1,992.1 312.1,1026.1 313.7,1015.5 318.0,1098.9 318.7,990.1 322.6,1092.9 324.7,994.7 325.0,1097.9 325.8,909.3 326.7,953.6 328.1,1014.5 331.4,917.4 337.1,1025.1 338.9,1097.6 339.1,1092.6 340.7,1097.1 341.1,934.0 341.7,979.1 343.0,1092.1 344.5,1067.1 348.4,1092.0 348.5,970.6 351.5,1032.7 356.1,1012.1 357.1,1020.7 358.0,923.3 359.5,1008.1 361.1,944.0 363.1,1015.5 365.5,959.0 367.1,947.4 367.6,1092.6 367.7,1094.3 368.7,1085.2 369.4,1094.4 369.5,1098.1 374.1,907.7 374.1,949.4 374.7,1092.1 375.1,935.4 375.3,1091.9 378.8,909.0 380.1,1072.7 381.7,948.0 383.5,1063.1 386.2,921.6 391.1,1029.1 393.7,958.0 397.0,920.1 397.1,932.0 400.1,1097.3 403.1,972.6 406.7,1056.1 409.1,1093.9 412.8,968.0 415.7,914.3 416.3,914.7 416.6,977.5 418.9,1096.1 419.1,1093.1 420.2,1000.1 424.2,1022.1 425.2,1090.3 425.5,1090.3 428.2,1036.1 430.2,963.0 430.4,1098.0 432.2,980.7 435.2,961.0 439.2,950.6 442.0,1098.4 442.8,1022.7 445.2,1034.7 446.6,935.0 447.0,910.6 448.8,1035.5 451.2,1069.1 454.5,923.7 458.2,1050.7 460.7,1092.9 460.8,1078.2" fill="none" stroke="none" marker-start="url(#mp)" marker-mid="url(#mp)" marker-end="url(#mp)"/><polyline points="59.4,1084.2 61.0,1090.8 63.0,1055.7 64.5,1098.5 68.6,1099.4 69.4,1085.6 70.2,1098.4 78.5,1097.2 79.0,1082.2 80.3,1098.4 83.0,1092.2 86.0,1053.5 88.1,1098.8 90.0,1039.1 91.4,1068.5 93.0,1066.5 96.0,1085.2 97.0,1097.4 100.0,1076.2 101.8,1096.5 102.0,1090.2 103.6,1099.5 106.1,1076.6 108.1,1035.1 110.1,1080.2 110.4,1096.9 111.1,1087.2 112.9,1097.1 113.1,1099.2 116.6,1096.8 119.1,1086.8 120.5,1070.1 125.3,1096.8 128.1,1064.1 129.7,1097.6 130.0,1099.1 130.7,1040.7 134.7,1075.2 139.4,1097.1 140.1,1066.5 142.6,1098.3 145.4,1096.9 147.1,1069.1 149.1,1055.7 153.7,1067.5 154.7,1083.2 157.1,1042.1 158.7,1085.2 160.7,1090.2 163.1,1074.1 164.1,1096.7 165.1,1085.2 166.9,1097.0 167.6,1099.1 168.1,1098.7 168.1,1074.1 169.1,1060.5 170.5,1099.2 170.7,1045.1 174.1,1094.2 174.4,1097.5 176.1,1039.1 177.6,1098.2 178.0,1099.0 181.0,1097.4 183.7,1048.7 186.1,1023.5 187.1,1090.8 188.1,1097.9 189.6,1096.6 191.4,1098.5 191.7,1051.5 197.5,1082.2 198.1,1096.7 201.9,1099.4 207.1,1096.5 208.2,1046.7 210.2,1098.0 214.6,1041.1 216.8,1043.1 218.2,1091.2 218.3,1097.5 221.0,1098.3 224.2,1087.2 226.2,1083.2 229.8,1098.5 231.1,1098.0 231.2,1092.2 232.3,1098.2 233.2,1050.7 233.3,1099.4 236.2,1083.2 240.8,1086.2 244.8,1060.7 247.3,1099.3 248.8,1044.1 250.2,1073.1 252.2,1098.0 253.2,1057.5 254.8,1074.1 255.8,1076.2 257.9,1099.1 264.1,1097.6 265.4,1049.1 265.8,1097.5 267.0,1028.1 269.4,1030.5 270.0,1096.4 271.0,1085.2 275.4,1096.8 276.0,1092.2 278.0,1080.8 281.6,1076.8 283.4,1050.7 283.8,1099.4 285.0,1032.7 290.1,1098.8 291.0,1091.2 292.6,1091.6 294.5,1097.2 296.6,1099.3 297.9,1097.1 298.0,1077.6 302.6,1078.2 304.0,1058.7 308.0,1092.2 311.5,1074.1 314.1,1079.2 314.9,1097.2 316.1,1049.1 317.7,1096.4 319.0,1098.1 320.3,1097.5 320.7,1059.1 325.1,1096.4 326.7,1039.1 327.9,1099.1 332.7,1050.5 334.7,1058.1 337.1,1022.1 338.1,1019.1 340.1,1013.1 345.1,1087.6 347.1,1077.6 349.5,1057.5 351.1,1076.8 354.4,1097.4 355.5,1077.6 355.8,1097.2 356.7,1099.1 357.1,1084.2 359.1,1040.1 365.5,1084.2 367.1,1096.4 367.1,1056.1 371.5,1098.6 373.1,1070.7 374.3,1097.2 375.1,1066.7 378.1,1057.5 379.7,1080.2 384.1,1098.4 385.7,1056.5 385.9,1096.8 386.5,1099.3 387.1,1066.1 389.7,1098.1 392.1,1072.1 392.2,1098.5 392.3,1097.2 397.7,1066.1 401.5,1088.8 403.1,1079.6 414.2,1091.6 416.2,1084.2 418.2,1038.1 418.5,1096.6 420.6,1066.1 423.7,1096.9 424.2,1040.7 426.6,1097.1 427.1,1097.8 428.8,1097.5 430.2,1083.2 435.2,1057.5 436.8,1046.1 437.2,1097.7 439.8,1054.1 440.2,1050.7 443.2,1015.5 445.6,1076.2 447.2,1058.7 448.8,1074.7 450.8,1086.8 452.8,1049.5 455.4,1099.2 458.1,1098.2 459.8,1059.5 461.2,1028.1 461.4,1098.0" fill="none" stroke="none" marker-start="url(#mt)" marker-mid="url(#mt)" marker-end="url(#mt)"/><polyline points="59.0,867.0 60.4,931.3 61.4,843.0 63.0,902.1 66.6,903.1 68.6,878.0 70.0,945.8 71.0,872.6 73.4,886.1 75.0,902.1 76.0,899.1 79.0,884.0 81.6,909.5 83.0,880.6 84.0,920.7 86.0,916.7 88.0,899.5 90.0,874.0 92.0,888.1 92.6,949.3 93.4,906.1 96.0,880.6 98.0,925.1 100.0,912.1 101.0,906.1 103.0,919.1 106.1,874.0 107.5,865.0 109.1,887.5 112.1,889.1 114.7,904.1 116.7,869.0 118.7,843.0 119.1,910.7 121.1,917.1 124.7,894.1 126.1,925.5 127.1,905.1 128.8,951.6 130.1,896.1 132.1,894.7 135.1,910.1 136.1,875.0 138.1,926.1 143.1,898.1 145.1,902.7 147.5,920.7 149.1,881.4 151.1,903.1 156.1,915.1 157.1,864.0 159.1,914.1 161.1,881.4 162.1,877.0 166.1,893.1 166.5,944.9 169.0,939.7 169.1,900.1 170.7,916.7 175.1,895.1 175.7,876.6 179.1,895.1 181.5,927.5 183.5,905.1 186.1,877.4 188.7,876.0 190.7,884.6 195.1,875.0 197.1,908.1 197.5,900.1 199.1,877.4 202.4,935.6 202.7,906.7 203.1,909.1 204.1,887.1 206.2,925.5 209.2,894.1 212.2,874.0 214.2,880.6 215.2,884.0 218.2,898.1 220.2,877.0 221.2,917.1 224.8,932.1 227.2,892.1 231.2,857.4 231.4,925.4 234.5,951.5 235.2,916.7 238.8,900.1 241.2,877.0 241.6,905.1 246.2,875.0 248.8,930.7 250.2,912.1 253.2,894.1 255.2,900.1 263.0,898.7 266.0,900.1 267.0,865.0 269.4,872.6 271.0,903.1 274.0,925.1 275.4,866.0 277.0,894.1 278.9,933.8 282.0,899.1 285.0,865.0 285.7,933.0 286.8,944.5 288.0,885.5 290.0,909.5 290.9,932.9 292.6,886.7 293.4,935.6 294.0,869.0 296.0,934.1 297.0,898.7 299.0,896.1 304.0,883.0 306.0,871.4 308.6,908.7 309.1,903.5 312.1,884.0 313.5,928.7 316.1,884.6 318.7,871.4 321.1,906.1 323.1,885.1 324.1,927.5 326.1,907.5 328.7,877.4 330.7,890.1 332.7,926.7 334.7,876.0 336.8,931.0 338.1,882.6 340.1,856.0 342.7,913.5 343.1,921.2 344.1,917.1 347.1,910.1 349.2,923.1 351.1,905.1 352.6,948.4 353.1,901.1 355.1,906.1 357.1,874.0 358.7,897.1 358.7,935.0 361.1,868.0 363.1,898.7 365.1,879.4 367.1,919.1 369.1,871.0 371.1,926.1 373.1,892.1 374.7,901.1 376.6,943.1 377.1,910.7 379.1,870.0 382.1,900.1 384.1,894.7 386.1,889.1 387.5,864.0 388.2,934.4 392.1,895.1 393.5,921.5 396.1,932.7 397.1,886.1 398.9,928.2 399.1,889.1 401.1,904.1 403.1,894.1 408.1,905.1 410.8,874.0 412.2,847.4 414.2,892.1 416.2,908.1 418.8,884.0 422.8,890.1 424.2,876.6 426.2,906.7 426.7,939.0 429.2,879.4 431.2,882.0 433.2,899.1 434.8,916.1 439.2,893.1 442.2,902.1 444.8,915.5 446.2,886.1 448.2,903.1 450.2,878.0 452.2,873.4 453.5,925.4 454.2,894.7 457.2,900.1 459.2,907.5 460.2,872.0" fill="none" stroke="none" marker-start="url(#ma)" marker-mid="url(#ma)" marker-end="url(#ma)"/><polyline points="58.0,869.0 59.0,918.1 61.4,887.5 63.0,902.1 65.4,896.1 67.4,880.0 69.4,903.1 71.4,915.1 74.0,881.4 75.4,887.5 76.6,888.7 81.0,877.0 84.6,909.5 86.6,908.1 88.0,867.0 90.0,918.1 92.0,894.1 94.6,866.6 94.9,926.9 97.4,871.0 100.0,925.5 102.0,899.1 104.0,892.1 106.1,876.0 108.1,932.7 110.1,876.0 114.7,902.1 116.7,927.5 118.7,914.7 120.1,898.1 121.0,931.8 123.1,903.1 126.7,861.0 128.1,875.0 132.1,888.1 134.7,905.1 137.9,930.3 138.7,885.1 138.7,924.1 140.7,863.4 143.5,899.1 143.6,928.1 145.1,888.1 147.5,887.1 149.5,920.1 152.1,929.1 153.1,926.1 155.1,892.1 155.9,933.9 157.1,882.6 158.7,887.5 160.7,874.6 163.1,904.7 165.1,925.5 167.1,910.7 168.7,886.1 170.1,917.1 174.1,890.1 176.1,908.1 177.5,930.1 179.5,868.0 181.5,897.1 184.1,910.1 186.1,898.1 188.1,916.1 191.5,919.1 193.1,898.7 195.3,925.5 195.5,927.5 197.5,915.1 198.4,927.7 199.5,879.4 203.1,912.1 205.2,884.0 206.8,914.1 209.2,905.5 212.2,860.6 213.3,933.3 215.6,894.1 218.8,906.7 220.2,866.0 220.2,924.3 222.8,907.5 224.2,895.1 226.2,919.1 228.2,865.4 231.2,890.7 233.2,882.6 235.2,887.5 236.3,923.8 236.8,915.1 238.8,894.7 240.8,904.1 242.8,867.0 246.6,926.5 246.8,882.0 248.2,910.7 250.8,876.0 252.2,894.1 254.4,921.8 254.8,893.1 256.2,882.6 263.0,920.1 265.0,918.7 267.4,863.0 269.0,888.7 270.0,930.8 271.4,870.6 273.4,892.1 275.0,922.1 278.0,911.1 280.0,906.1 282.6,885.5 283.6,935.1 285.0,907.1 287.0,893.1 290.6,895.5 294.0,896.1 294.0,905.5 300.0,873.0 301.4,861.0 304.6,888.7 305.3,929.7 306.0,892.1 307.9,928.9 308.0,862.6 309.1,906.7 312.7,902.7 314.1,876.6 316.1,894.7 319.1,900.1 320.7,926.7 322.7,917.1 323.6,933.7 324.7,880.6 327.1,897.1 328.1,919.5 330.1,934.7 330.7,904.7 332.1,916.1 334.7,874.0 335.8,927.9 337.5,882.6 338.1,922.7 340.7,920.7 344.1,898.1 345.9,936.4 347.1,902.1 349.1,884.6 351.1,918.1 355.1,925.5 357.1,886.7 361.1,885.1 361.1,913.5 364.7,884.0 367.1,916.7 368.7,895.1 371.1,862.0 373.1,877.0 375.1,883.4 378.1,928.1 380.1,898.7 381.5,874.0 383.5,882.0 385.5,894.7 387.1,923.1 388.9,920.7 390.1,867.4 392.1,915.5 393.5,878.6 395.1,897.5 395.6,931.7 398.1,911.1 401.1,893.1 403.5,877.0 406.1,930.7 408.1,926.1 409.5,934.1 410.2,889.1 412.8,896.7 417.2,891.1 419.2,904.1 420.2,895.1 422.8,917.5 426.8,885.5 428.8,902.1 430.2,926.1 434.8,872.0 437.2,876.0 438.8,927.5 440.2,886.7 442.2,884.6 444.8,914.1 447.2,861.0 449.2,900.1 451.2,892.1 452.8,854.6 455.6,893.5 458.8,906.7 461.2,922.1" fill="none" stroke="none" marker-start="url(#mc)" marker-mid="url(#mc)" marker-end="url(#mc)"/><polyline points="57.4,1024.2 59.5,959.4 61.5,984.7 63.6,963.0 65.6,950.9 67.6,981.1 69.7,989.9 71.7,966.8 73.8,953.7 75.8,916.0 77.8,921.0 79.9,966.9 81.9,921.8 84.0,1026.3 86.0,940.4 88.0,911.8 90.1,971.7 92.1,946.8 94.2,937.1 96.2,1018.0 98.2,911.8 100.3,966.7 102.3,951.3 104.3,1017.8 106.4,957.2 108.4,949.8 110.5,1022.4 112.5,964.7 114.5,1030.1 116.6,943.6 118.6,950.5 120.7,972.5 122.7,959.2 124.7,911.8 126.8,931.4 128.8,975.5 130.9,948.3 132.9,958.4 134.9,949.9 137.0,986.3 139.0,1042.5 141.1,1021.4 143.1,969.1 145.1,1022.0 147.2,938.0 149.2,941.4 151.3,915.6 153.3,942.5 155.3,962.7 157.4,919.9 159.4,929.8 161.5,943.6 163.5,995.2 165.5,956.0 167.6,958.5 169.6,973.5 171.7,962.9 173.7,956.5 175.7,961.6 177.8,938.8 179.8,964.4 181.8,926.0 183.9,920.7 185.9,964.5 188.0,928.9 190.0,1004.6 192.0,937.0 194.1,926.8 196.1,963.7 198.2,980.8 200.2,980.9 202.2,1011.8 204.3,931.6 206.3,936.1 208.4,911.8 210.4,927.1 212.4,1015.5 214.5,938.8 216.5,940.4 218.6,951.7 220.6,933.3 222.6,947.6 224.7,931.6 226.7,959.8 228.8,969.1 230.8,974.8 232.8,950.5 234.9,928.7 236.9,964.4 239.0,1014.9 241.0,971.9 243.0,971.4 245.1,954.1 247.1,964.7 249.2,1028.0 251.2,942.4 253.2,977.4 255.3,1019.4 257.3,1011.4 259.4,1027.3 261.4,998.6 263.4,951.5 265.5,932.6 267.5,916.9 269.5,943.6 271.6,1042.8 273.6,948.8 275.7,931.6 277.7,958.4 279.7,921.7 281.8,952.4 283.8,963.9 285.9,934.4 287.9,924.8 289.9,954.5 292.0,1029.5 294.0,933.1 296.1,1032.3 298.1,926.3 300.1,945.3 302.2,930.5 304.2,946.9 306.3,921.7 308.3,1022.2 310.3,1014.9 312.4,948.7 314.4,970.2 316.5,963.4 318.5,950.0 320.5,967.1 322.6,917.3 324.6,951.2 326.7,986.7 328.7,924.9 330.7,1005.4 332.8,925.6 334.8,945.0 336.9,940.1 338.9,949.9 340.9,917.6 343.0,911.8 345.0,933.5 347.0,955.5 349.1,936.8 351.1,969.8 353.2,947.5 355.2,1035.5 357.2,965.1 359.3,937.4 361.3,932.8 363.4,947.0 365.4,1000.6 367.4,1018.9 369.5,932.5 371.5,958.9 373.6,996.2 375.6,985.1 377.6,965.4 379.7,1031.7 381.7,973.5 383.8,955.2 385.8,991.5 387.8,969.0 389.9,951.0 391.9,943.7 394.0,960.9 396.0,934.5 398.0,957.6 400.1,965.4 402.1,932.3 404.2,998.3 406.2,944.1 408.2,927.1 410.3,979.9 412.3,961.9 414.4,954.5 416.4,952.2 418.4,1007.8 420.5,960.9 422.5,965.0 424.5,1033.2 426.6,944.1 428.6,968.5 430.7,955.3 432.7,945.5 434.7,949.7 436.8,966.8 438.8,978.9 440.9,962.1 442.9,938.3 444.9,989.9 447.0,970.5 449.0,1036.5 451.1,964.9 453.1,954.0 455.1,974.2 457.2,952.2 459.2,988.3 461.3,927.1 463.3,1038.0" fill="none" stroke="none" marker-start="url(#ms)" marker-mid="url(#ms)" marker-end="url(#ms)"/><polyline points="57.4,1096.4 59.5,1099.5 61.5,1097.0 63.6,1097.6 65.6,1095.5 67.6,1097.2 69.7,1098.0 71.7,1096.7 73.8,1098.4 75.8,1096.4 77.8,1095.9 79.9,1097.2 81.9,1096.9 84.0,1097.5 86.0,1096.6 88.0,1095.8 90.1,1095.8 92.1,1096.3 94.2,1096.8 96.2,1096.1 98.2,1096.0 100.3,1098.5 102.3,1097.0 104.3,1097.8 106.4,1097.1 108.4,1097.6 110.5,1096.1 112.5,1098.2 114.5,1096.3 116.6,1096.9 118.6,1098.9 120.7,1095.6 122.7,1098.6 124.7,1096.0 126.8,1096.3 128.8,1095.5 130.9,1097.6 132.9,1096.2 134.9,1096.6 137.0,1096.9 139.0,1096.5 141.1,1097.3 143.1,1097.4 145.1,1095.5 147.2,1096.1 149.2,1097.3 151.3,1096.3 153.3,1098.0 155.3,1097.2 157.4,1096.4 159.4,1097.3 161.5,1097.4 163.5,1096.0 165.5,1095.6 167.6,1097.9 169.6,1097.4 171.7,1096.2 173.7,1096.7 175.7,1096.4 177.8,1096.4 179.8,1098.1 181.8,1096.6 183.9,1096.2 185.9,1095.7 188.0,1095.7 190.0,1097.3 192.0,1096.6 194.1,1097.7 196.1,1098.7 198.2,1097.0 200.2,1098.0 202.2,1097.4 204.3,1096.9 206.3,1097.5 208.4,1097.1 210.4,1097.0 212.4,1098.2 214.5,1097.7 216.5,1098.4 218.6,1096.0 220.6,1097.6 222.6,1096.3 224.7,1096.2 226.7,1095.8 228.8,1096.8 230.8,1094.6 232.8,1095.2 234.9,1098.1 236.9,1097.5 239.0,1097.1 241.0,1097.7 243.0,1097.4 245.1,1095.5 247.1,1097.3 249.2,1097.7 251.2,1097.5 253.2,1098.1 255.3,1096.2 257.3,1097.0 259.4,1096.8 261.4,1096.1 263.4,1098.5 265.5,1098.1 267.5,1096.7 269.5,1096.7 271.6,1095.3 273.6,1096.1 275.7,1096.3 277.7,1098.0 279.7,1097.2 281.8,1096.1 283.8,1097.5 285.9,1096.7 287.9,1098.1 289.9,1096.5 292.0,1095.7 294.0,1097.3 296.1,1097.3 298.1,1098.8 300.1,1099.0 302.2,1099.1 304.2,1098.7 306.3,1097.6 308.3,1096.4 310.3,1096.8 312.4,1097.6 314.4,1095.5 316.5,1096.0 318.5,1095.8 320.5,1096.8 322.6,1096.6 324.6,1099.3 326.7,1097.9 328.7,1098.5 330.7,1098.1 332.8,1097.4 334.8,1097.1 336.9,1096.3 338.9,1098.5 340.9,1095.7 343.0,1096.9 345.0,1097.8 347.0,1097.0 349.1,1095.8 351.1,1096.7 353.2,1097.5 355.2,1097.8 357.2,1097.9 359.3,1097.9 361.3,1098.3 363.4,1097.5 365.4,1095.8 367.4,1096.5 369.5,1096.4 371.5,1097.8 373.6,1096.5 375.6,1097.4 377.6,1096.9 379.7,1097.7 381.7,1097.0 383.8,1097.2 385.8,1097.5 387.8,1096.9 389.9,1097.6 391.9,1097.7 394.0,1098.4 396.0,1097.6 398.0,1097.8 400.1,1096.9 402.1,1097.7 404.2,1095.8 406.2,1098.3 408.2,1095.7 410.3,1097.0 412.3,1099.5 414.4,1096.4 416.4,1098.6 418.4,1098.1 420.5,1098.6 422.5,1095.6 424.5,1097.7 426.6,1095.4 428.6,1098.8 430.7,1095.2 432.7,1096.1 434.7,1097.4 436.8,1097.5 438.8,1097.4 440.9,1095.6 442.9,1098.0 444.9,1096.0 447.0,1097.9 449.0,1095.6 451.1,1096.8 453.1,1096.4 455.1,1098.6 457.2,1096.2 459.2,1096.7 461.3,1096.3 463.3,1096.1" fill="none" stroke="none" marker-start="url(#mx)" marker-mid="url(#mx)" marker-end="url(#mx)"/><line x1="55.4" x2="463.3" y1="1101.3" y2="1101.3" stroke="#f88" stroke-width="1"/><text x="40.9" y="844.8" font-size="17.5" text-anchor="middle" >4</text><text x="40.5" y="885.2" font-size="17.5" text-anchor="middle" >3.5</text><text x="40.5" y="926" font-size="17.5" text-anchor="middle" >3</text><text x="40.5" y="966.5" font-size="17.5" text-anchor="middle" >2.5</text><text x="40.7" y="1007" font-size="17.5" text-anchor="middle" >2</text><text x="41.2" y="1047.5" font-size="17.5" text-anchor="middle" >1.5</text><text x="40.9" y="1088" font-size="17.5" text-anchor="middle" >1</text><text x="40.8" y="1128.6" font-size="17.5" text-anchor="middle" >0.5</text><text x="46" y="1169" font-size="17.5" text-anchor="middle" >0</text><text x="54.25" y="1184.3" font-size="17.5" text-anchor="middle" >0</text><text x="88" y="1184.3" font-size="17.5" text-anchor="middle" >20</text><text x="121.75" y="1184.3" font-size="17.5" text-anchor="middle" >40</text><text x="155.5" y="1184.3" font-size="17.5" text-anchor="middle" >60</text><text x="189.25" y="1184.3" font-size="17.5" text-anchor="middle" >80</text><text x="230.5" y="1184.3" font-size="17.5" text-anchor="middle" >100</text><text x="275.7" y="1184.3" font-size="17.5" text-anchor="middle" >120</text><text x="321.4" y="1184.3" font-size="17.5" text-anchor="middle" >140</text><text x="367.9" y="1184.3" font-size="17.5" text-anchor="middle" >160</text><text x="412.5" y="1184.3" font-size="17.5" text-anchor="middle" >180</text><text x="454.7" y="1184.3" font-size="17.5" text-anchor="middle" >200</text><text x="263.9" y="1201" font-size="18" text-anchor="middle" >Test times</text><text transform="translate(24.2,1019) rotate(-90)" font-size="18">T<tspan font-size="10.5" dy="1">bias</tspan></text><text x="230.6" y="1233.7" font-size="26" font-weight="bold" text-anchor="middle">(e)</text><path d="M617.5 1168.4v-4.2M617.5 837.3v4.2M718.3 1168.4v-4.2M718.3 837.3v4.2M819.1 1168.4v-4.2M819.1 837.3v4.2M516.6 1168.4h4.2M920 1168.4h-4.2M516.6 1131.6h4.2M920 1131.6h-4.2M516.6 1094.8h4.2M920 1094.8h-4.2M516.6 1058.0h4.2M920 1058.0h-4.2M516.6 1021.2h4.2M920 1021.2h-4.2M516.6 984.5h4.2M920 984.5h-4.2M516.6 947.7h4.2M920 947.7h-4.2M516.6 910.9h4.2M920 910.9h-4.2M516.6 874.1h4.2M920 874.1h-4.2M516.6 837.3h4.2M920 837.3h-4.2" stroke="#777" stroke-width="1" fill="none"/><rect x="516.6" y="837.3" width="403.4" height="331.1" fill="none" stroke="#999" stroke-width="1"/><polyline points="518.6,1146.4 520.6,1146.4 522.7,1146.4 524.7,1146.4 526.7,1146.4 528.7,1146.4 530.7,1146.4 532.7,1146.4 534.8,1146.4 536.8,1146.4 538.8,1146.4 540.8,1146.4 542.8,1146.4 544.8,1146.4 546.9,1146.4 548.9,1146.4 550.9,1146.4 552.9,1146.4 554.9,1146.4 556.9,1146.4 559.0,1146.4 561.0,1146.4 563.0,1146.4 565.0,1146.4 567.0,1146.4 569.0,1146.4 571.1,1146.4 573.1,1146.4 575.1,1146.4 577.1,1146.4 579.1,1146.4 581.1,1146.4 583.2,1146.4 585.2,1146.4 587.2,1146.4 589.2,1146.4 591.2,1146.4 593.2,1146.4 595.3,1146.4 597.3,1146.4 599.3,1146.4 601.3,1146.4 603.3,1146.4 605.3,1146.4 607.4,1146.4 609.4,1146.4 611.4,1146.4 613.4,1146.4 615.4,1146.4 617.5,1146.4 619.5,1146.4 621.5,1146.4 623.5,1146.4 625.5,1146.4 627.5,1146.4 629.6,1146.4 631.6,1146.4 633.6,1146.4 635.6,1146.4 637.6,1146.4 639.6,1146.4 641.7,1146.4 643.7,1146.4 645.7,1146.4 647.7,1146.4 649.7,1146.4 651.7,1146.4 653.8,1146.4 655.8,1146.4 657.8,1146.4 659.8,1146.4 661.8,1146.4 663.8,1146.4 665.9,1146.4 667.9,1146.4 669.9,1146.4 671.9,1146.4 673.9,1146.4 675.9,1146.4 678.0,1146.4 680.0,1146.4 682.0,1146.4 684.0,1146.4 686.0,1146.4 688.0,1146.4 690.1,1146.4 692.1,1146.4 694.1,1146.4 696.1,1146.4 698.1,1146.4 700.1,1146.4 702.2,1146.4 704.2,1146.4 706.2,1146.4 708.2,1146.4 710.2,1146.4 712.2,1146.4 714.3,1146.4 716.3,1146.4 718.3,1146.4 720.3,1146.4 722.3,1146.4 724.4,1146.4 726.4,1146.4 728.4,1146.4 730.4,1146.4 732.4,1146.4 734.4,1146.4 736.5,1146.4 738.5,1146.4 740.5,1146.4 742.5,1146.4 744.5,1146.4 746.5,1146.4 748.6,1146.4 750.6,1146.4 752.6,1146.4 754.6,1146.4 756.6,1146.4 758.6,1146.4 760.7,1146.4 762.7,1146.4 764.7,1146.4 766.7,1146.4 768.7,1146.4 770.7,1146.4 772.8,1146.4 774.8,1146.4 776.8,1146.4 778.8,1146.4 780.8,1146.4 782.8,1146.4 784.9,1146.4 786.9,1146.4 788.9,1146.4 790.9,1146.4 792.9,1146.4 794.9,1146.4 797.0,1146.4 799.0,1146.4 801.0,1146.4 803.0,1146.4 805.0,1146.4 807.0,1146.4 809.1,1146.4 811.1,1146.4 813.1,1146.4 815.1,1146.4 817.1,1146.4 819.1,1146.4 821.2,1146.4 823.2,1146.4 825.2,1146.4 827.2,1146.4 829.2,1146.4 831.3,1146.4 833.3,1146.4 835.3,1146.4 837.3,1146.4 839.3,1146.4 841.3,1146.4 843.4,1146.4 845.4,1146.4 847.4,1146.4 849.4,1146.4 851.4,1146.4 853.4,1146.4 855.5,1146.4 857.5,1146.4 859.5,1146.4 861.5,1146.4 863.5,1146.4 865.5,1146.4 867.6,1146.4 869.6,1146.4 871.6,1146.4 873.6,1146.4 875.6,1146.4 877.6,1146.4 879.7,1146.4 881.7,1146.4 883.7,1146.4 885.7,1146.4 887.7,1146.4 889.7,1146.4 891.8,1146.4 893.8,1146.4 895.8,1146.4 897.8,1146.4 899.8,1146.4 901.8,1146.4 903.9,1146.4 905.9,1146.4 907.9,1146.4 909.9,1146.4 911.9,1146.4 913.9,1146.4 916.0,1146.4 918.0,1146.4 920.0,1146.4" fill="none" stroke="none" marker-start="url(#md)" marker-mid="url(#md)" marker-end="url(#md)"/><polyline points="518.6,1145.4 520.6,1145.4 522.7,1145.4 524.7,1145.4 526.7,1145.4 528.7,1145.4 530.7,1145.4 532.7,1145.4 534.8,1145.4 536.8,1145.4 538.8,1145.4 540.8,1145.4 542.8,1145.4 544.8,1145.4 546.9,1145.4 548.9,1145.4 550.9,1145.4 552.9,1145.4 554.9,1145.4 556.9,1145.4 559.0,1145.4 561.0,1145.4 563.0,1145.4 565.0,1145.4 567.0,1145.4 569.0,1145.4 571.1,1145.4 573.1,1145.4 575.1,1145.4 577.1,1145.4 579.1,1145.4 581.1,1145.4 583.2,1145.4 585.2,1145.4 587.2,1145.4 589.2,1145.4 591.2,1145.4 593.2,1145.4 595.3,1145.4 597.3,1145.4 599.3,1145.4 601.3,1145.4 603.3,1145.4 605.3,1145.4 607.4,1145.4 609.4,1145.4 611.4,1145.4 613.4,1145.4 615.4,1145.4 617.5,1145.4 619.5,1145.4 621.5,1145.4 623.5,1145.4 625.5,1145.4 627.5,1145.4 629.6,1145.4 631.6,1145.4 633.6,1145.4 635.6,1145.4 637.6,1145.4 639.6,1145.4 641.7,1145.4 643.7,1145.4 645.7,1145.4 647.7,1145.4 649.7,1145.4 651.7,1145.4 653.8,1145.4 655.8,1145.4 657.8,1145.4 659.8,1145.4 661.8,1145.4 663.8,1145.4 665.9,1145.4 667.9,1145.4 669.9,1145.4 671.9,1145.4 673.9,1145.4 675.9,1145.4 678.0,1145.4 680.0,1145.4 682.0,1145.4 684.0,1145.4 686.0,1145.4 688.0,1145.4 690.1,1145.4 692.1,1145.4 694.1,1145.4 696.1,1145.4 698.1,1145.4 700.1,1145.4 702.2,1145.4 704.2,1145.4 706.2,1145.4 708.2,1145.4 710.2,1145.4 712.2,1145.4 714.3,1145.4 716.3,1145.4 718.3,1145.4 720.3,1145.4 722.3,1145.4 724.4,1145.4 726.4,1145.4 728.4,1145.4 730.4,1145.4 732.4,1145.4 734.4,1145.4 736.5,1145.4 738.5,1145.4 740.5,1145.4 742.5,1145.4 744.5,1145.4 746.5,1145.4 748.6,1145.4 750.6,1145.4 752.6,1145.4 754.6,1145.4 756.6,1145.4 758.6,1145.4 760.7,1145.4 762.7,1145.4 764.7,1145.4 766.7,1145.4 768.7,1145.4 770.7,1145.4 772.8,1145.4 774.8,1145.4 776.8,1145.4 778.8,1145.4 780.8,1145.4 782.8,1145.4 784.9,1145.4 786.9,1145.4 788.9,1145.4 790.9,1145.4 792.9,1145.4 794.9,1145.4 797.0,1145.4 799.0,1145.4 801.0,1145.4 803.0,1145.4 805.0,1145.4 807.0,1145.4 809.1,1145.4 811.1,1145.4 813.1,1145.4 815.1,1145.4 817.1,1145.4 819.1,1145.4 821.2,1145.4 823.2,1145.4 825.2,1145.4 827.2,1145.4 829.2,1145.4 831.3,1145.4 833.3,1145.4 835.3,1145.4 837.3,1145.4 839.3,1145.4 841.3,1145.4 843.4,1145.4 845.4,1145.4 847.4,1145.4 849.4,1145.4 851.4,1145.4 853.4,1145.4 855.5,1145.4 857.5,1145.4 859.5,1145.4 861.5,1145.4 863.5,1145.4 865.5,1145.4 867.6,1145.4 869.6,1145.4 871.6,1145.4 873.6,1145.4 875.6,1145.4 877.6,1145.4 879.7,1145.4 881.7,1145.4 883.7,1145.4 885.7,1145.4 887.7,1145.4 889.7,1145.4 891.8,1145.4 893.8,1145.4 895.8,1145.4 897.8,1145.4 899.8,1145.4 901.8,1145.4 903.9,1145.4 905.9,1145.4 907.9,1145.4 909.9,1145.4 911.9,1145.4 913.9,1145.4 916.0,1145.4 918.0,1145.4 920.0,1145.4" fill="none" stroke="none" marker-start="url(#mp)" marker-mid="url(#mp)" marker-end="url(#mp)"/><polyline points="519.0,1067.8 520.3,997.0 521.9,934.3 524.3,937.2 526.3,982.0 528.2,1016.7 529.8,1009.8 532.2,1037.2 533.8,1059.9 535.7,1024.0 537.7,986.5 540.7,950.6 542.6,908.0 544.6,964.3 546.6,901.1 547.6,968.8 550.5,913.0 552.5,963.3 554.5,968.8 556.4,853.8 558.0,978.1 560.4,986.5 562.0,1019.5 564.9,965.4 566.9,979.6 568.9,944.7 570.8,981.0 572.6,960.3 575.2,979.6 576.8,1016.5 578.7,963.3 580.7,861.7 582.5,993.4 584.5,887.9 586.4,1042.8 589.0,904.3 591.0,896.4 592.9,1022.4 594.9,968.2 596.9,845.9 598.9,1029.4 600.8,951.6 602.8,1037.8 604.8,987.5 606.7,864.6 608.7,948.7 610.3,1011.6 613.3,917.5 615.2,906.1 617.2,922.8 619.0,1003.3 621.1,910.2 623.1,970.2 625.1,1000.4 626.9,1033.9 629.0,907.0 631.0,865.6 632.4,1010.6 635.7,879.6 637.3,1017.5 639.3,993.4 641.3,1047.7 643.2,898.4 645.6,875.1 647.2,917.5 649.2,987.5 651.1,868.2 653.1,1005.7 655.1,1042.8 657.1,978.1 660.0,998.4 662.0,959.3 663.0,1040.2 665.5,1044.7 667.5,975.1 669.3,1006.7 671.3,993.4 673.2,928.3 675.4,856.7 677.4,1035.9 679.1,1005.7 681.3,1032.9 683.7,983.6 686.1,918.5 687.6,1051.1 689.6,989.5 692.0,866.6 693.5,912.0 695.5,956.6 697.5,1064.9 699.5,1013.6 701.4,1013.6 703.4,967.2 705.4,1053.6 708.3,872.5 710.3,905.1 711.3,934.3 713.3,936.2 715.3,892.8 717.6,892.4 718.4,1034.8 720.0,935.8 721.6,1007.5 723.6,944.6 725.6,876.0 727.6,894.4 730.3,963.1 732.3,1043.4 734.3,1018.3 735.9,919.3 738.3,952.5 740.3,971.7 741.9,892.4 743.9,927.2 745.9,1075.6 747.5,1004.5 749.9,1009.3 751.9,1026.8 754.8,1036.8 756.8,919.3 758.4,1077.6 760.2,969.1 762.4,851.9 764.4,1062.7 766.2,980.4 768.4,1061.1 770.4,957.1 772.2,914.3 774.2,923.7 775.8,1016.3 778.7,987.4 780.7,1029.2 782.7,1049.2 784.7,870.1 786.7,1077.6 788.3,862.5 790.3,879.8 792.3,939.2 794.3,931.2 796.3,865.1 798.3,878.0 800.1,1044.8 803.1,956.5 805.0,926.2 807.0,910.9 808.6,1006.9 810.6,1053.1 813.0,1036.8 814.6,991.4 816.6,870.1 818.6,1014.3 820.6,1015.3 822.6,895.4 825.2,922.3 826.6,1031.8 829.1,1068.3 831.1,1033.2 833.1,946.6 835.1,863.5 836.5,1002.5 838.9,1007.5 841.1,1055.1 842.9,917.9 844.9,957.1 846.9,1039.8 849.5,985.4 851.5,1055.1 853.5,1075.6 855.0,1026.4 857.0,1032.4 859.0,980.4 861.0,1036.2 863.0,1041.8 865.0,1050.3 866.8,1003.5 869.0,974.7 871.0,1008.5 873.8,995.4 875.8,877.0 877.4,943.8 879.3,1034.8 881.3,957.1 883.3,1068.7 885.3,985.0 887.3,1004.5 889.3,1035.8 890.9,970.7 892.9,917.9 894.9,934.2 897.9,930.2 899.7,878.0 901.9,1041.4 903.8,860.5 905.6,952.5 907.6,998.6 909.2,853.5 911.6,1022.9 913.6,1045.4 915.2,1012.5 916.8,881.4 917.6,932.6" fill="none" stroke="none" marker-start="url(#mt)" marker-mid="url(#mt)" marker-end="url(#mt)"/><polyline points="520.3,1121.4 526.3,1104.7 528.2,1135.6 529.0,1145.4 529.5,1145.4 530.2,1128.9 532.2,1106.6 532.4,1145.4 535.7,1120.4 537.7,1139.2 540.7,1120.4 546.3,1145.4 546.3,1145.4 546.6,1113.5 547.4,1145.4 549.4,1145.4 550.5,1135.2 552.1,1145.4 560.4,1118.1 562.4,1132.3 564.9,1145.4 567.7,1129.7 569.3,1133.3 570.0,1145.4 572.2,1126.4 574.2,1133.3 576.2,1118.5 577.7,1145.4 578.7,1115.1 580.7,1129.3 582.5,1145.4 584.0,1109.6 585.0,1110.6 585.5,1145.4 594.9,1117.5 595.5,1145.4 596.9,1134.2 600.6,1145.4 601.3,1145.4 601.6,1145.4 602.8,1105.6 603.8,1138.2 606.3,1124.4 608.3,1138.8 610.3,1122.4 613.2,1112.5 618.0,1145.4 619.2,1105.2 620.0,1145.4 623.1,1095.4 624.0,1145.4 624.6,1145.4 625.1,1115.5 626.6,1145.4 629.0,1136.2 630.4,1145.4 633.0,1100.1 637.3,1130.3 639.3,1138.2 639.3,1145.4 642.1,1145.4 644.5,1145.4 645.0,1145.4 645.2,1131.7 647.2,1123.0 649.1,1099.7 653.1,1095.2 654.1,1138.2 658.6,1145.4 660.0,1120.4 661.3,1145.4 662.0,1126.9 666.3,1145.4 667.5,1123.0 668.4,1145.4 669.5,1135.2 671.6,1145.4 673.8,1132.9 677.3,1122.4 678.7,1145.4 681.3,1110.6 683.7,1131.3 685.6,1125.8 689.6,1128.3 695.9,1120.4 697.0,1145.4 697.5,1117.5 699.4,1104.7 703.4,1135.2 706.7,1145.4 707.3,1145.4 708.3,1114.5 710.3,1133.3 714.2,1121.4 714.4,1145.4 716.1,1145.4 716.2,1110.6 718.4,1110.9 718.8,1145.4 719.0,1122.8 719.0,1145.4 721.6,1116.9 723.1,1145.4 724.0,1124.8 732.3,1136.8 735.3,1145.4 735.9,1108.9 738.3,1093.9 738.9,1145.4 739.3,1145.4 742.3,1105.5 743.2,1145.4 744.3,1119.2 747.6,1145.4 747.9,1114.9 749.5,1135.8 749.8,1145.4 751.3,1145.4 752.2,1145.4 752.9,1133.8 753.4,1145.4 754.8,1132.2 756.8,1106.5 757.9,1145.4 759.1,1145.4 759.2,1145.4 762.2,1127.2 762.6,1145.4 768.8,1145.4 769.8,1145.4 773.8,1108.9 773.9,1145.4 776.6,1145.4 779.3,1115.5 780.7,1145.4 781.3,1136.8 783.6,1145.4 783.7,1135.8 786.6,1145.4 786.7,1116.5 786.7,1145.4 796.7,1133.4 799.7,1145.4 800.3,1120.4 803.9,1145.4 805.4,1145.4 808.2,1114.3 809.6,1145.4 811.2,1105.5 813.6,1113.5 816.2,1145.4 818.6,1127.2 818.7,1145.4 820.0,1145.4 820.6,1109.5 824.6,1145.4 825.6,1115.5 827.6,1125.4 828.7,1145.4 842.5,1132.2 846.5,1132.2 847.9,1145.4 849.5,1145.4 851.4,1145.4 853.3,1145.4 853.5,1133.8 855.8,1145.4 856.4,1145.4 857.4,1101.9 857.7,1145.4 860.5,1145.4 861.0,1133.8 864.1,1145.4 865.8,1125.4 866.4,1145.4 867.4,1135.8 869.4,1120.4 871.0,1121.8 874.0,1136.8 874.4,1145.4 877.8,1111.5 878.3,1145.4 879.0,1145.4 880.8,1145.4 881.3,1130.8 884.0,1145.4 885.7,1145.4 886.8,1145.4 887.3,1119.4 888.8,1145.4 894.9,1115.5 900.4,1145.4 901.9,1124.2 905.6,1134.2 907.2,1145.4 909.4,1145.4 912.2,1108.9 914.9,1145.4 916.8,1124.8 918.2,1129.8" fill="none" stroke="none" marker-start="url(#mc)" marker-mid="url(#mc)" marker-end="url(#mc)"/><polyline points="518.6,1144.3 520.6,1144.3 522.7,1144.3 524.7,1144.3 526.7,1144.3 528.7,1144.3 530.7,1144.3 532.7,1144.3 534.8,1144.3 536.8,1144.3 538.8,1144.3 540.8,1144.3 542.8,1144.3 544.8,1144.3 546.9,1144.3 548.9,1144.3 550.9,1144.3 552.9,1144.3 554.9,1144.3 556.9,1144.3 559.0,1144.3 561.0,1144.3 563.0,1144.3 565.0,1144.3 567.0,1144.3 569.0,1144.3 571.1,1144.3 573.1,1144.3 575.1,1144.3 577.1,1144.3 579.1,1144.3 581.1,1144.3 583.2,1144.3 585.2,1144.3 587.2,1144.3 589.2,1144.3 591.2,1144.3 593.2,1144.3 595.3,1144.3 597.3,1144.3 599.3,1144.3 601.3,1144.3 603.3,1144.3 605.3,1144.3 607.4,1144.3 609.4,1144.3 611.4,1144.3 613.4,1144.3 615.4,1144.3 617.5,1144.3 619.5,1144.3 621.5,1144.3 623.5,1144.3 625.5,1144.3 627.5,1144.3 629.6,1144.3 631.6,1144.3 633.6,1144.3 635.6,1144.3 637.6,1144.3 639.6,1144.3 641.7,1144.3 643.7,1144.3 645.7,1144.3 647.7,1144.3 649.7,1144.3 651.7,1144.3 653.8,1144.3 655.8,1144.3 657.8,1144.3 659.8,1144.3 661.8,1144.3 663.8,1144.3 665.9,1144.3 667.9,1144.3 669.9,1144.3 671.9,1144.3 673.9,1144.3 675.9,1144.3 678.0,1144.3 680.0,1144.3 682.0,1144.3 684.0,1144.3 686.0,1144.3 688.0,1144.3 690.1,1144.3 692.1,1144.3 694.1,1144.3 696.1,1144.3 698.1,1144.3 700.1,1144.3 702.2,1144.3 704.2,1144.3 706.2,1144.3 708.2,1144.3 710.2,1144.3 712.2,1144.3 714.3,1144.3 716.3,1144.3 718.3,1144.3 720.3,1144.3 722.3,1144.3 724.4,1144.3 726.4,1144.3 728.4,1144.3 730.4,1144.3 732.4,1144.3 734.4,1144.3 736.5,1144.3 738.5,1144.3 740.5,1144.3 742.5,1144.3 744.5,1144.3 746.5,1144.3 748.6,1144.3 750.6,1144.3 752.6,1144.3 754.6,1144.3 756.6,1144.3 758.6,1144.3 760.7,1144.3 762.7,1144.3 764.7,1144.3 766.7,1144.3 768.7,1144.3 770.7,1144.3 772.8,1144.3 774.8,1144.3 776.8,1144.3 778.8,1144.3 780.8,1144.3 782.8,1144.3 784.9,1144.3 786.9,1144.3 788.9,1144.3 790.9,1144.3 792.9,1144.3 794.9,1144.3 797.0,1144.3 799.0,1144.3 801.0,1144.3 803.0,1144.3 805.0,1144.3 807.0,1144.3 809.1,1144.3 811.1,1144.3 813.1,1144.3 815.1,1144.3 817.1,1144.3 819.1,1144.3 821.2,1144.3 823.2,1144.3 825.2,1144.3 827.2,1144.3 829.2,1144.3 831.3,1144.3 833.3,1144.3 835.3,1144.3 837.3,1144.3 839.3,1144.3 841.3,1144.3 843.4,1144.3 845.4,1144.3 847.4,1144.3 849.4,1144.3 851.4,1144.3 853.4,1144.3 855.5,1144.3 857.5,1144.3 859.5,1144.3 861.5,1144.3 863.5,1144.3 865.5,1144.3 867.6,1144.3 869.6,1144.3 871.6,1144.3 873.6,1144.3 875.6,1144.3 877.6,1144.3 879.7,1144.3 881.7,1144.3 883.7,1144.3 885.7,1144.3 887.7,1144.3 889.7,1144.3 891.8,1144.3 893.8,1144.3 895.8,1144.3 897.8,1144.3 899.8,1144.3 901.8,1144.3 903.9,1144.3 905.9,1144.3 907.9,1144.3 909.9,1144.3 911.9,1144.3 913.9,1144.3 916.0,1144.3 918.0,1144.3 920.0,1144.3" fill="none" stroke="none" marker-start="url(#ms)" marker-mid="url(#ms)" marker-end="url(#ms)"/><polyline points="520.3,1107.6 522.7,1140.0 523.5,1143.8 524.6,1136.5 525.5,1121.0 527.8,1114.5 529.7,1136.5 532.9,1139.3 533.7,1141.8 533.8,1126.9 534.0,1139.7 534.7,1118.5 538.1,1105.2 539.5,1139.2 540.7,1103.3 541.6,1136.0 542.6,1137.6 545.2,1115.1 545.3,1141.4 545.9,1140.7 548.0,1126.4 548.3,1137.8 551.0,1137.4 551.1,1116.5 552.5,1085.5 552.7,1136.7 553.9,1122.4 555.3,1136.1 557.8,1113.5 562.0,1108.0 566.9,1087.5 567.2,1140.5 568.9,1116.5 571.2,1110.0 572.8,1143.7 572.8,1099.7 574.2,1095.4 577.0,1144.7 578.7,1122.4 583.1,1111.6 589.0,1138.2 589.3,1139.4 591.0,1095.8 591.3,1140.2 591.9,1138.0 592.9,1107.6 593.9,1112.5 596.5,1104.7 600.8,1125.8 603.8,1115.5 606.3,1110.6 608.7,1119.1 612.3,1119.4 612.6,1136.3 613.2,1133.6 615.2,1082.4 617.2,1124.4 618.9,1142.1 622.5,1144.2 623.5,1116.5 623.7,1136.3 626.8,1138.4 630.4,1125.4 633.9,1131.7 635.3,1114.5 637.3,1087.5 639.3,1104.1 643.2,1115.5 645.8,1113.5 647.2,1095.4 651.1,1102.7 653.7,1137.5 655.1,1111.6 657.0,1093.4 662.0,1100.7 663.5,1105.6 667.5,1109.6 669.5,1102.1 671.8,1102.7 673.4,1109.6 677.7,1122.4 679.3,1102.7 681.7,1124.4 686.3,1144.1 688.0,1114.5 689.6,1105.6 691.5,1098.7 693.5,1096.2 694.2,1138.3 697.1,1112.5 697.5,1136.2 702.4,1123.8 703.3,1140.2 707.7,1104.1 712.3,1105.6 713.2,1135.2 715.2,1138.2 721.8,1136.1 722.8,1137.5 727.0,1137.8 731.9,1113.9 734.8,1139.6 734.9,1116.9 738.3,1105.9 739.9,1132.8 741.4,1140.4 741.9,1112.9 744.9,1120.8 746.5,1119.2 747.6,1135.4 749.5,1141.1 749.9,1092.4 751.1,1137.8 751.9,1099.3 754.8,1087.6 755.2,1138.9 756.8,1122.8 758.4,1139.8 762.8,1136.3 762.8,1112.9 763.9,1144.7 763.9,1142.3 766.2,1100.9 768.2,1089.4 770.2,1096.9 773.4,1109.9 775.1,1137.1 775.8,1096.9 776.4,1142.3 776.8,1139.5 779.3,1089.4 780.0,1137.1 782.4,1142.9 784.7,1100.9 787.7,1117.8 790.7,1109.9 793.1,1139.6 794.1,1117.5 796.2,1136.1 796.7,1121.8 800.3,1094.9 802.7,1129.8 805.6,1139.5 806.6,1097.9 806.9,1144.7 811.6,1128.8 812.0,1141.6 815.6,1103.9 820.6,1130.8 822.5,1135.8 823.6,1129.8 825.1,1139.0 827.3,1139.2 828.5,1119.8 829.1,1143.1 830.5,1129.4 833.5,1105.9 835.1,1100.9 837.1,1123.8 838.8,1140.1 838.8,1140.6 839.1,1095.9 841.1,1115.9 842.3,1138.6 846.5,1098.9 849.5,1117.5 851.8,1144.1 853.5,1104.9 855.4,1135.7 855.4,1127.8 857.8,1122.8 861.2,1140.5 863.4,1116.9 864.4,1133.4 865.5,1144.1 866.1,1143.5 873.4,1090.0 876.0,1117.8 879.3,1121.8 879.6,1136.6 886.3,1108.9 886.3,1132.8 887.2,1138.3 889.3,1094.9 892.9,1108.9 893.6,1141.2 895.3,1132.2 897.7,1100.9 899.8,1139.0 900.9,1139.4 902.3,1096.9 905.2,1109.9 907.2,1098.9 910.4,1140.5 910.8,1103.5 911.0,1135.5 913.2,1113.9 915.2,1115.9 915.8,1138.0 918.8,1086.0" fill="none" stroke="none" marker-start="url(#mx)" marker-mid="url(#mx)" marker-end="url(#mx)"/><polyline points="518.6,1145.4 520.6,1145.4 522.7,1145.4 524.7,1145.4 526.7,1145.4 528.7,1145.4 530.7,1145.4 532.7,1145.4 534.8,1145.4 536.8,1145.4 538.8,1145.4 540.8,1145.4 542.8,1145.4 544.8,1145.4 546.9,1145.4 548.9,1145.4 550.9,1145.4 552.9,1145.4 554.9,1145.4 556.9,1145.4 559.0,1145.4 561.0,1145.4 563.0,1145.4 565.0,1145.4 567.0,1145.4 569.0,1145.4 571.1,1145.4 573.1,1145.4 575.1,1145.4 577.1,1145.4 579.1,1145.4 581.1,1145.4 583.2,1145.4 585.2,1145.4 587.2,1145.4 589.2,1145.4 591.2,1145.4 593.2,1145.4 595.3,1145.4 597.3,1145.4 599.3,1145.4 601.3,1145.4 603.3,1145.4 605.3,1145.4 607.4,1145.4 609.4,1145.4 611.4,1145.4 613.4,1145.4 615.4,1145.4 617.5,1145.4 619.5,1145.4 621.5,1145.4 623.5,1145.4 625.5,1145.4 627.5,1145.4 629.6,1145.4 631.6,1145.4 633.6,1145.4 635.6,1145.4 637.6,1145.4 639.6,1145.4 641.7,1145.4 643.7,1145.4 645.7,1145.4 647.7,1145.4 649.7,1145.4 651.7,1145.4 653.8,1145.4 655.8,1145.4 657.8,1145.4 659.8,1145.4 661.8,1145.4 663.8,1145.4 665.9,1145.4 667.9,1145.4 669.9,1145.4 671.9,1145.4 673.9,1145.4 675.9,1145.4 678.0,1145.4 680.0,1145.4 682.0,1145.4 684.0,1145.4 686.0,1145.4 688.0,1145.4 690.1,1145.4 692.1,1145.4 694.1,1145.4 696.1,1145.4 698.1,1145.4 700.1,1145.4 702.2,1145.4 704.2,1145.4 706.2,1145.4 708.2,1145.4 710.2,1145.4 712.2,1145.4 714.3,1145.4 716.3,1145.4 718.3,1145.4 720.3,1145.4 722.3,1145.4 724.4,1145.4 726.4,1145.4 728.4,1145.4 730.4,1145.4 732.4,1145.4 734.4,1145.4 736.5,1145.4 738.5,1145.4 740.5,1145.4 742.5,1145.4 744.5,1145.4 746.5,1145.4 748.6,1145.4 750.6,1145.4 752.6,1145.4 754.6,1145.4 756.6,1145.4 758.6,1145.4 760.7,1145.4 762.7,1145.4 764.7,1145.4 766.7,1145.4 768.7,1145.4 770.7,1145.4 772.8,1145.4 774.8,1145.4 776.8,1145.4 778.8,1145.4 780.8,1145.4 782.8,1145.4 784.9,1145.4 786.9,1145.4 788.9,1145.4 790.9,1145.4 792.9,1145.4 794.9,1145.4 797.0,1145.4 799.0,1145.4 801.0,1145.4 803.0,1145.4 805.0,1145.4 807.0,1145.4 809.1,1145.4 811.1,1145.4 813.1,1145.4 815.1,1145.4 817.1,1145.4 819.1,1145.4 821.2,1145.4 823.2,1145.4 825.2,1145.4 827.2,1145.4 829.2,1145.4 831.3,1145.4 833.3,1145.4 835.3,1145.4 837.3,1145.4 839.3,1145.4 841.3,1145.4 843.4,1145.4 845.4,1145.4 847.4,1145.4 849.4,1145.4 851.4,1145.4 853.4,1145.4 855.5,1145.4 857.5,1145.4 859.5,1145.4 861.5,1145.4 863.5,1145.4 865.5,1145.4 867.6,1145.4 869.6,1145.4 871.6,1145.4 873.6,1145.4 875.6,1145.4 877.6,1145.4 879.7,1145.4 881.7,1145.4 883.7,1145.4 885.7,1145.4 887.7,1145.4 889.7,1145.4 891.8,1145.4 893.8,1145.4 895.8,1145.4 897.8,1145.4 899.8,1145.4 901.8,1145.4 903.9,1145.4 905.9,1145.4 907.9,1145.4 909.9,1145.4 911.9,1145.4 913.9,1145.4 916.0,1145.4 918.0,1145.4 920.0,1145.4" fill="none" stroke="none" opacity="0.5" marker-start="url(#ma)" marker-mid="url(#ma)" marker-end="url(#ma)"/><line x1="516.6" x2="920" y1="1079.5" y2="1079.5" stroke="#f99" stroke-width="1"/><line x1="516.6" x2="920" y1="1145.4" y2="1145.4" stroke="#f33" stroke-width="1"/><text x="501.3" y="841.4" font-size="17.5" text-anchor="middle" >0.9</text><text x="500.5" y="878.3" font-size="17.5" text-anchor="middle" >0.85</text><text x="501.6" y="915.2" font-size="17.5" text-anchor="middle" >0.8</text><text x="500" y="951.8" font-size="17.5" text-anchor="middle" >0.75</text><text x="499.9" y="988.2" font-size="17.5" text-anchor="middle" >0.7</text><text x="499.5" y="1025.1" font-size="17.5" text-anchor="middle" >0.65</text><text x="499.8" y="1062" font-size="17.5" text-anchor="middle" >0.6</text><text x="499.5" y="1098.2" font-size="17.5" text-anchor="middle" >0.55</text><text x="499.8" y="1135.8" font-size="17.5" text-anchor="middle" >0.5</text><text x="496.8" y="1172" font-size="17.5" text-anchor="middle" >0.45</text><text x="513.25" y="1184.3" font-size="17.5" text-anchor="middle" >0</text><text x="547" y="1184.3" font-size="17.5" text-anchor="middle" >20</text><text x="581.25" y="1184.3" font-size="17.5" text-anchor="middle" >40</text><text x="615" y="1184.3" font-size="17.5" text-anchor="middle" >60</text><text x="648" y="1184.3" font-size="17.5" text-anchor="middle" >80</text><text x="689.7" y="1184.3" font-size="17.5" text-anchor="middle" >100</text><text x="733.4" y="1184.3" font-size="17.5" text-anchor="middle" >120</text><text x="780.3" y="1184.3" font-size="17.5" text-anchor="middle" >140</text><text x="826.8" y="1184.3" font-size="17.5" text-anchor="middle" >160</text><text x="871.4" y="1184.3" font-size="17.5" text-anchor="middle" >180</text><text x="913.9" y="1184.3" font-size="17.5" text-anchor="middle" >200</text><text x="726.6" y="1201" font-size="18" text-anchor="middle" >Test times</text><text transform="translate(483,1014) rotate(-90)" font-size="18">S<tspan font-size="10.5" dy="1">max</tspan></text><text x="749.4" y="1233.7" font-size="26" font-weight="bold" text-anchor="middle">(f)</text><rect x="925.2" y="839.9" width="86.4" height="309.1" fill="#fff" stroke="#aaa" stroke-width="1.2"/><use href="#sd" x="955" y="863.4"/><use href="#sp" x="955" y="900.7"/><use href="#st" x="955" y="937.5"/><use href="#sa" x="955" y="975.8"/><use href="#sc" x="955" y="1012.3"/><use href="#ss" x="955" y="1050.2"/><use href="#sx" x="955" y="1088"/><line x1="934" x2="977.4" y1="1125.1" y2="1125.1" stroke="#f44" stroke-width="1"/><text x="958.1" y="884.7" font-size="14.3" text-anchor="middle" >harmonics</text><text x="953.5" y="922" font-size="14.3" text-anchor="middle" >sag</text><text x="954.7" y="957" font-size="14.3" text-anchor="middle" >swell</text><text x="961.2" y="995.7" font-size="14.3" text-anchor="middle" >interruption</text><text x="960.2" y="1028.9" font-size="14.3" text-anchor="middle" >impulsive</text><text x="960" y="1074.7" font-size="14.3" text-anchor="middle" >oscillation</text><text x="960.5" y="1109.6" font-size="14.3" text-anchor="middle" >fluctuation</text><text x="961" y="1143.4" font-size="14.3" text-anchor="middle" >Threshold</text></svg></body></html>
